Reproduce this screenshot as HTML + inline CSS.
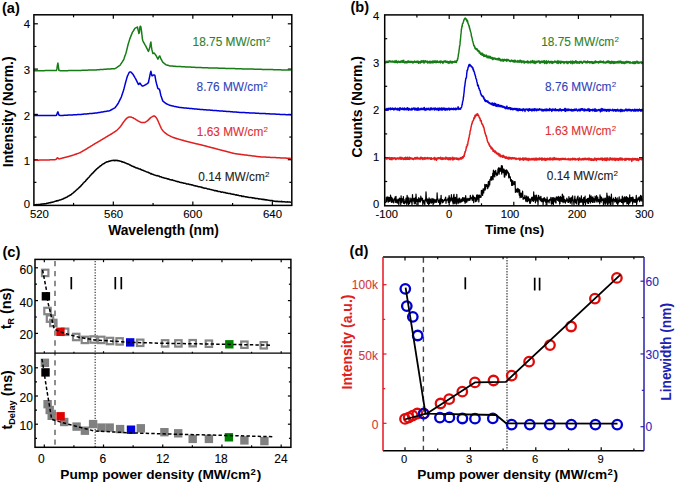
<!DOCTYPE html>
<html><head><meta charset="utf-8"><title>Figure</title>
<style>html,body{margin:0;padding:0;background:#fff;} svg{display:block;font-family:"Liberation Sans",sans-serif;}</style>
</head><body>
<svg width="675" height="483" viewBox="0 0 675 483" font-family="Liberation Sans, sans-serif"><line x1="73.56" y1="205.40" x2="73.56" y2="202.90" stroke="#000" stroke-width="1.2" />
<line x1="73.56" y1="14.80" x2="73.56" y2="17.30" stroke="#000" stroke-width="1.2" />
<line x1="113.32" y1="205.40" x2="113.32" y2="201.40" stroke="#000" stroke-width="1.2" />
<line x1="113.32" y1="14.80" x2="113.32" y2="18.80" stroke="#000" stroke-width="1.2" />
<line x1="153.08" y1="205.40" x2="153.08" y2="202.90" stroke="#000" stroke-width="1.2" />
<line x1="153.08" y1="14.80" x2="153.08" y2="17.30" stroke="#000" stroke-width="1.2" />
<line x1="192.84" y1="205.40" x2="192.84" y2="201.40" stroke="#000" stroke-width="1.2" />
<line x1="192.84" y1="14.80" x2="192.84" y2="18.80" stroke="#000" stroke-width="1.2" />
<line x1="232.60" y1="205.40" x2="232.60" y2="202.90" stroke="#000" stroke-width="1.2" />
<line x1="232.60" y1="14.80" x2="232.60" y2="17.30" stroke="#000" stroke-width="1.2" />
<line x1="272.36" y1="205.40" x2="272.36" y2="201.40" stroke="#000" stroke-width="1.2" />
<line x1="272.36" y1="14.80" x2="272.36" y2="18.80" stroke="#000" stroke-width="1.2" />
<line x1="33.90" y1="182.35" x2="36.40" y2="182.35" stroke="#000" stroke-width="1.2" />
<line x1="291.80" y1="182.35" x2="289.30" y2="182.35" stroke="#000" stroke-width="1.2" />
<line x1="33.90" y1="159.70" x2="37.90" y2="159.70" stroke="#000" stroke-width="1.2" />
<line x1="291.80" y1="159.70" x2="287.80" y2="159.70" stroke="#000" stroke-width="1.2" />
<line x1="33.90" y1="137.05" x2="36.40" y2="137.05" stroke="#000" stroke-width="1.2" />
<line x1="291.80" y1="137.05" x2="289.30" y2="137.05" stroke="#000" stroke-width="1.2" />
<line x1="33.90" y1="114.40" x2="37.90" y2="114.40" stroke="#000" stroke-width="1.2" />
<line x1="291.80" y1="114.40" x2="287.80" y2="114.40" stroke="#000" stroke-width="1.2" />
<line x1="33.90" y1="91.75" x2="36.40" y2="91.75" stroke="#000" stroke-width="1.2" />
<line x1="291.80" y1="91.75" x2="289.30" y2="91.75" stroke="#000" stroke-width="1.2" />
<line x1="33.90" y1="69.10" x2="37.90" y2="69.10" stroke="#000" stroke-width="1.2" />
<line x1="291.80" y1="69.10" x2="287.80" y2="69.10" stroke="#000" stroke-width="1.2" />
<line x1="33.90" y1="46.45" x2="36.40" y2="46.45" stroke="#000" stroke-width="1.2" />
<line x1="291.80" y1="46.45" x2="289.30" y2="46.45" stroke="#000" stroke-width="1.2" />
<line x1="33.90" y1="23.80" x2="37.90" y2="23.80" stroke="#000" stroke-width="1.2" />
<line x1="291.80" y1="23.80" x2="287.80" y2="23.80" stroke="#000" stroke-width="1.2" />
<text x="39.40" y="218.10" font-size="11.4" text-anchor="middle" fill="#000" font-weight="normal" stroke="#000" stroke-width="0.1" >520</text>
<text x="113.60" y="218.10" font-size="11.4" text-anchor="middle" fill="#000" font-weight="normal" stroke="#000" stroke-width="0.1" >560</text>
<text x="192.80" y="218.10" font-size="11.4" text-anchor="middle" fill="#000" font-weight="normal" stroke="#000" stroke-width="0.1" >600</text>
<text x="272.50" y="218.10" font-size="11.4" text-anchor="middle" fill="#000" font-weight="normal" stroke="#000" stroke-width="0.1" >640</text>
<text x="30.10" y="208.20" font-size="11.4" text-anchor="end" fill="#000" font-weight="normal" stroke="#000" stroke-width="0.1" >0</text>
<text x="30.10" y="164.60" font-size="11.4" text-anchor="end" fill="#000" font-weight="normal" stroke="#000" stroke-width="0.1" >1</text>
<text x="30.10" y="119.50" font-size="11.4" text-anchor="end" fill="#000" font-weight="normal" stroke="#000" stroke-width="0.1" >2</text>
<text x="30.10" y="73.85" font-size="11.4" text-anchor="end" fill="#000" font-weight="normal" stroke="#000" stroke-width="0.1" >3</text>
<text x="30.10" y="27.70" font-size="11.4" text-anchor="end" fill="#000" font-weight="normal" stroke="#000" stroke-width="0.1" >4</text>
<path d="M33.9 205.0L34.4 205.0L34.9 204.9L35.4 204.7L35.9 204.7L36.4 204.6L36.9 204.7L37.4 204.8L37.9 204.5L38.4 204.5L38.9 204.6L39.4 204.5L39.9 204.4L40.4 204.2L40.9 204.3L41.4 204.3L41.9 204.0L42.4 204.1L42.9 203.9L43.4 203.9L43.9 203.8L44.4 203.9L44.9 203.7L45.4 203.8L45.9 203.7L46.4 203.6L46.9 203.2L47.4 203.3L47.9 203.2L48.4 203.1L48.9 202.8L49.4 202.8L49.9 202.7L50.4 202.6L50.9 202.7L51.4 202.3L51.9 202.3L52.4 202.3L52.9 202.0L53.4 201.9L53.9 201.8L54.4 201.6L54.9 201.3L55.4 201.3L55.9 201.3L56.4 200.8L56.9 201.0L57.4 200.8L57.9 200.5L58.4 200.7L58.9 200.4L59.4 200.0L59.9 200.0L60.4 199.9L60.9 199.7L61.4 199.6L61.9 199.3L62.4 199.2L62.9 199.1L63.4 198.6L63.9 198.5L64.4 198.2L64.9 198.1L65.4 197.7L65.9 197.5L66.4 197.3L66.9 197.2L67.4 196.9L67.9 196.3L68.4 196.1L68.9 196.0L69.4 195.4L69.9 195.3L70.4 195.0L70.9 194.8L71.4 194.4L71.9 193.9L72.4 193.5L72.9 193.1L73.4 192.9L73.9 192.2L74.4 191.8L74.9 191.5L75.4 191.0L75.9 190.5L76.4 190.0L76.9 189.6L77.4 189.1L77.9 188.8L78.4 188.3L78.9 187.8L79.4 187.4L79.9 186.8L80.4 186.5L80.9 185.9L81.4 185.4L81.9 184.7L82.4 184.4L82.9 183.6L83.4 183.0L83.9 182.6L84.4 182.0L84.9 181.6L85.4 181.3L85.9 180.4L86.4 179.8L86.9 179.4L87.4 178.9L87.9 178.2L88.4 177.7L88.9 177.3L89.4 176.7L89.9 176.0L90.4 175.5L90.9 175.0L91.4 174.3L91.9 173.9L92.4 173.3L92.9 173.0L93.4 172.4L93.9 171.9L94.4 171.3L94.9 170.9L95.4 170.2L95.9 169.8L96.4 169.4L96.9 168.7L97.4 168.6L97.9 167.8L98.4 167.7L98.9 167.1L99.4 166.9L99.9 166.4L100.4 165.8L100.9 165.7L101.4 165.3L101.9 164.8L102.4 164.4L102.9 164.1L103.4 163.7L103.9 163.7L104.4 163.2L104.9 163.0L105.4 162.6L105.9 162.3L106.4 162.0L106.9 162.0L107.4 161.7L107.9 161.7L108.4 161.5L108.9 161.2L109.4 161.2L109.9 161.0L110.4 161.0L110.9 160.8L111.4 160.7L111.9 160.4L112.4 160.4L112.9 160.6L113.4 160.3L113.9 160.3L114.4 160.5L114.9 160.7L115.4 160.3L115.9 160.5L116.4 160.5L116.9 160.3L117.4 160.7L117.9 160.6L118.4 160.7L118.9 160.8L119.4 161.0L119.9 161.1L120.4 161.3L120.9 161.3L121.4 161.4L121.9 161.9L122.4 161.8L122.9 162.0L123.4 162.2L123.9 162.3L124.4 162.5L124.9 162.8L125.4 162.9L125.9 163.1L126.4 163.4L126.9 163.7L127.4 163.8L127.9 164.0L128.4 164.1L128.9 164.3L129.4 164.8L129.9 165.0L130.4 165.1L130.9 165.5L131.4 165.7L131.9 166.0L132.4 166.2L132.9 166.3L133.4 166.8L133.9 166.6L134.4 167.1L134.9 167.3L135.4 167.5L135.9 167.8L136.4 168.0L136.9 167.9L137.4 168.0L137.9 168.5L138.4 168.5L138.9 168.8L139.4 169.1L139.9 169.0L140.4 169.1L140.9 169.6L141.4 169.8L141.9 170.0L142.4 170.2L142.9 170.3L143.4 170.4L143.9 170.8L144.4 170.9L144.9 171.0L145.4 171.4L145.9 171.6L146.4 171.8L146.9 171.9L147.4 172.1L147.9 172.3L148.4 172.5L148.9 172.8L149.4 172.9L149.9 173.2L150.4 173.4L150.9 173.9L151.4 173.6L151.9 174.1L152.4 174.2L152.9 174.4L153.4 174.4L153.9 174.8L154.4 175.1L154.9 175.1L155.4 175.3L155.9 175.4L156.4 175.7L156.9 175.7L157.4 175.6L157.9 175.9L158.4 175.9L158.9 175.9L159.4 176.4L159.9 176.8L160.4 176.8L160.9 176.8L161.4 177.0L161.9 177.4L162.4 177.4L162.9 177.5L163.4 177.7L163.9 177.8L164.4 178.1L164.9 178.2L165.4 178.3L165.9 178.3L166.4 178.6L166.9 178.6L167.4 178.9L167.9 178.8L168.4 179.0L168.9 179.2L169.4 179.2L169.9 179.7L170.4 179.8L170.9 179.7L171.4 180.0L171.9 180.1L172.4 179.8L172.9 180.3L173.4 180.4L173.9 180.6L174.4 180.6L174.9 180.8L175.4 180.9L175.9 181.2L176.4 181.3L176.9 181.4L177.4 181.7L177.9 181.6L178.4 181.7L178.9 181.7L179.4 182.2L179.9 182.3L180.4 182.4L180.9 182.5L181.4 182.5L181.9 182.7L182.4 182.7L182.9 182.9L183.4 183.0L183.9 183.3L184.4 183.3L184.9 183.3L185.4 183.4L185.9 183.5L186.4 183.9L186.9 183.9L187.4 183.9L187.9 184.0L188.4 184.0L188.9 184.3L189.4 184.5L189.9 184.5L190.4 184.6L190.9 184.7L191.4 184.9L191.9 184.8L192.4 185.1L192.9 185.1L193.4 185.5L193.9 185.4L194.4 185.7L194.9 185.9L195.4 185.8L195.9 185.9L196.4 186.1L196.9 186.2L197.4 186.2L197.9 186.5L198.4 186.8L198.9 186.7L199.4 186.8L199.9 186.8L200.4 187.1L200.9 187.0L201.4 187.2L201.9 187.6L202.4 187.4L202.9 187.8L203.4 188.0L203.9 187.9L204.4 188.1L204.9 188.4L205.4 188.2L205.9 188.3L206.4 188.3L206.9 188.6L207.4 188.9L207.9 189.0L208.4 188.9L208.9 189.0L209.4 189.2L209.9 189.4L210.4 189.4L210.9 189.6L211.4 189.7L211.9 189.8L212.4 189.9L212.9 190.1L213.4 190.2L213.9 190.4L214.4 190.7L214.9 190.6L215.4 190.7L215.9 190.6L216.4 191.0L216.9 190.8L217.4 191.0L217.9 191.4L218.4 191.5L218.9 191.5L219.4 191.4L219.9 191.6L220.4 191.7L220.9 192.0L221.4 192.3L221.9 192.1L222.4 192.1L222.9 192.1L223.4 192.4L223.9 192.5L224.4 192.4L224.9 192.7L225.4 192.6L225.9 193.0L226.4 193.1L226.9 193.2L227.4 193.1L227.9 193.3L228.4 193.4L228.9 193.4L229.4 193.5L229.9 193.5L230.4 193.6L230.9 194.0L231.4 194.0L231.9 194.1L232.4 194.3L232.9 194.1L233.4 194.3L233.9 194.5L234.4 194.6L234.9 194.6L235.4 194.9L235.9 194.9L236.4 194.8L236.9 195.0L237.4 195.3L237.9 195.3L238.4 195.2L238.9 195.6L239.4 195.7L239.9 195.8L240.4 195.7L240.9 195.8L241.4 195.8L241.9 196.4L242.4 196.2L242.9 196.5L243.4 196.3L243.9 196.5L244.4 196.4L244.9 196.6L245.4 196.9L245.9 196.7L246.4 197.1L246.9 197.1L247.4 197.0L247.9 197.2L248.4 197.3L248.9 197.4L249.4 197.4L249.9 197.4L250.4 197.6L250.9 197.6L251.4 197.6L251.9 197.8L252.4 198.0L252.9 197.8L253.4 198.0L253.9 198.0L254.4 198.1L254.9 198.4L255.4 198.3L255.9 198.6L256.4 198.4L256.9 198.6L257.4 198.6L257.9 198.6L258.4 198.9L258.9 198.8L259.4 199.0L259.9 199.0L260.4 199.0L260.9 199.1L261.4 199.2L261.9 199.4L262.4 199.3L262.9 199.5L263.4 199.3L263.9 199.7L264.4 199.6L264.9 199.5L265.4 199.8L265.9 200.0L266.4 199.8L266.9 199.9L267.4 200.0L267.9 200.1L268.4 200.3L268.9 200.3L269.4 200.3L269.9 200.6L270.4 200.5L270.9 200.7L271.4 200.6L271.9 200.6L272.4 200.6L272.9 201.2L273.4 201.0L273.9 201.1L274.4 201.2L274.9 201.3L275.4 201.3L275.9 201.6L276.4 201.3L276.9 201.3L277.4 201.4L277.9 201.3L278.4 201.6L278.9 201.7L279.4 201.5L279.9 201.4L280.4 201.6L280.9 201.8L281.4 201.3L281.9 201.8L282.4 201.6L282.9 201.9L283.4 201.7L283.9 201.8L284.4 201.7L284.9 201.8L285.4 202.1L285.9 202.0L286.4 201.9L286.9 201.9L287.4 201.8L287.9 202.0L288.4 202.1L288.9 202.1L289.4 202.1L289.9 202.0L290.4 202.2L290.9 202.2" fill="none" stroke="#000" stroke-width="1.5" stroke-linejoin="round"/>
<path d="M33.9 160.3L34.4 160.3L34.9 160.3L35.4 160.3L35.9 160.2L36.4 160.2L36.9 160.2L37.4 160.2L37.9 160.2L38.4 160.2L38.9 160.2L39.4 160.1L39.9 160.1L40.4 160.1L40.9 160.1L41.4 160.1L41.9 160.1L42.4 160.1L42.9 160.0L43.4 160.0L43.9 160.0L44.4 160.0L44.9 160.0L45.4 160.0L45.9 160.0L46.4 159.9L46.9 159.9L47.4 159.9L47.9 159.9L48.4 159.9L48.9 159.9L49.4 159.9L49.9 159.8L50.4 159.8L50.9 159.8L51.4 159.8L51.9 159.8L52.4 159.8L52.9 159.8L53.4 159.7L53.9 159.7L54.4 159.7L54.9 159.7L55.4 159.6L55.9 159.5L56.4 159.1L56.9 158.3L57.4 157.8L57.9 157.9L58.4 158.6L58.9 158.9L59.4 158.9L59.9 158.7L60.4 158.6L60.9 158.5L61.4 158.4L61.9 158.2L62.4 158.1L62.9 158.0L63.4 157.8L63.9 157.7L64.4 157.6L64.9 157.5L65.4 157.3L65.9 157.2L66.4 157.1L66.9 156.9L67.4 156.8L67.9 156.7L68.4 156.5L68.9 156.4L69.4 156.2L69.9 156.1L70.4 155.9L70.9 155.8L71.4 155.7L71.9 155.5L72.4 155.4L72.9 155.2L73.4 155.1L73.9 154.9L74.4 154.7L74.9 154.5L75.4 154.3L75.9 154.2L76.4 154.0L76.9 153.8L77.4 153.6L77.9 153.4L78.4 153.3L78.9 153.1L79.4 152.9L79.9 152.7L80.4 152.5L80.9 152.2L81.4 151.9L81.9 151.6L82.4 151.3L82.9 151.0L83.4 150.7L83.9 150.4L84.4 150.1L84.9 149.8L85.4 149.5L85.9 149.3L86.4 149.0L86.9 148.7L87.4 148.3L87.9 148.0L88.4 147.7L88.9 147.4L89.4 147.1L89.9 146.8L90.4 146.5L90.9 146.2L91.4 145.9L91.9 145.6L92.4 145.3L92.9 144.9L93.4 144.6L93.9 144.3L94.4 144.0L94.9 143.7L95.4 143.4L95.9 143.1L96.4 142.8L96.9 142.6L97.4 142.3L97.9 142.0L98.4 141.7L98.9 141.4L99.4 141.1L99.9 140.8L100.4 140.5L100.9 140.2L101.4 139.9L101.9 139.6L102.4 139.3L102.9 139.0L103.4 138.7L103.9 138.4L104.4 138.1L104.9 137.8L105.4 137.5L105.9 137.2L106.4 136.9L106.9 136.6L107.4 136.3L107.9 136.0L108.4 135.7L108.9 135.4L109.4 135.1L109.9 134.8L110.4 134.5L110.9 134.2L111.4 134.0L111.9 133.6L112.4 133.3L112.9 133.0L113.4 132.6L113.9 132.3L114.4 132.0L114.9 131.6L115.4 131.3L115.9 131.0L116.4 130.6L116.9 130.3L117.4 129.8L117.9 129.3L118.4 128.8L118.9 128.2L119.4 127.7L119.9 127.2L120.4 126.6L120.9 125.9L121.4 125.2L121.9 124.5L122.4 123.7L122.9 123.0L123.4 122.3L123.9 121.6L124.4 121.0L124.9 120.3L125.4 119.7L125.9 119.1L126.4 118.6L126.9 118.1L127.4 117.8L127.9 117.5L128.4 117.2L128.9 117.1L129.4 117.0L129.9 116.9L130.4 116.9L130.9 117.0L131.4 117.2L131.9 117.4L132.4 117.6L132.9 117.8L133.4 118.0L133.9 118.3L134.4 118.6L134.9 118.9L135.4 119.2L135.9 119.6L136.4 119.9L136.9 120.2L137.4 120.5L137.9 120.8L138.4 121.1L138.9 121.3L139.4 121.6L139.9 121.8L140.4 122.1L140.9 122.3L141.4 122.4L141.9 122.4L142.4 122.5L142.9 122.5L143.4 122.5L143.9 122.6L144.4 122.5L144.9 122.4L145.4 122.1L145.9 121.8L146.4 121.4L146.9 121.1L147.4 120.8L147.9 120.4L148.4 119.9L148.9 119.4L149.4 118.9L149.9 118.4L150.4 117.9L150.9 117.5L151.4 117.1L151.9 116.9L152.4 116.6L152.9 116.3L153.4 116.0L153.9 115.9L154.4 115.9L154.9 116.3L155.4 116.7L155.9 117.3L156.4 117.9L156.9 118.7L157.4 119.6L157.9 120.7L158.4 121.8L158.9 123.0L159.4 124.1L159.9 125.3L160.4 126.4L160.9 127.5L161.4 128.6L161.9 129.4L162.4 130.1L162.9 130.7L163.4 131.2L163.9 131.8L164.4 132.3L164.9 132.7L165.4 133.1L165.9 133.5L166.4 133.8L166.9 134.2L167.4 134.6L167.9 134.9L168.4 135.2L168.9 135.4L169.4 135.7L169.9 135.9L170.4 136.2L170.9 136.4L171.4 136.7L171.9 136.9L172.4 137.1L172.9 137.3L173.4 137.5L173.9 137.7L174.4 137.8L174.9 138.0L175.4 138.2L175.9 138.3L176.4 138.5L176.9 138.7L177.4 138.8L177.9 138.9L178.4 139.1L178.9 139.2L179.4 139.4L179.9 139.5L180.4 139.6L180.9 139.8L181.4 139.9L181.9 140.1L182.4 140.2L182.9 140.3L183.4 140.5L183.9 140.6L184.4 140.8L184.9 140.9L185.4 141.0L185.9 141.2L186.4 141.3L186.9 141.4L187.4 141.6L187.9 141.7L188.4 141.8L188.9 141.9L189.4 142.1L189.9 142.2L190.4 142.3L190.9 142.4L191.4 142.6L191.9 142.7L192.4 142.8L192.9 142.9L193.4 143.1L193.9 143.2L194.4 143.3L194.9 143.4L195.4 143.5L195.9 143.7L196.4 143.8L196.9 143.9L197.4 144.0L197.9 144.1L198.4 144.2L198.9 144.4L199.4 144.5L199.9 144.6L200.4 144.7L200.9 144.8L201.4 145.0L201.9 145.1L202.4 145.2L202.9 145.3L203.4 145.4L203.9 145.6L204.4 145.7L204.9 145.8L205.4 146.0L205.9 146.1L206.4 146.2L206.9 146.4L207.4 146.5L207.9 146.6L208.4 146.8L208.9 146.9L209.4 147.0L209.9 147.2L210.4 147.3L210.9 147.4L211.4 147.6L211.9 147.7L212.4 147.8L212.9 148.0L213.4 148.1L213.9 148.2L214.4 148.3L214.9 148.5L215.4 148.6L215.9 148.7L216.4 148.9L216.9 149.0L217.4 149.1L217.9 149.3L218.4 149.4L218.9 149.5L219.4 149.6L219.9 149.8L220.4 149.9L220.9 150.0L221.4 150.2L221.9 150.3L222.4 150.4L222.9 150.6L223.4 150.7L223.9 150.8L224.4 150.9L224.9 151.1L225.4 151.2L225.9 151.3L226.4 151.5L226.9 151.6L227.4 151.7L227.9 151.9L228.4 152.0L228.9 152.1L229.4 152.2L229.9 152.4L230.4 152.5L230.9 152.6L231.4 152.8L231.9 152.9L232.4 153.0L232.9 153.2L233.4 153.3L233.9 153.4L234.4 153.5L234.9 153.6L235.4 153.7L235.9 153.8L236.4 153.8L236.9 153.9L237.4 154.0L237.9 154.0L238.4 154.1L238.9 154.2L239.4 154.2L239.9 154.3L240.4 154.3L240.9 154.4L241.4 154.5L241.9 154.5L242.4 154.6L242.9 154.7L243.4 154.7L243.9 154.8L244.4 154.9L244.9 154.9L245.4 155.0L245.9 155.1L246.4 155.1L246.9 155.2L247.4 155.2L247.9 155.3L248.4 155.4L248.9 155.4L249.4 155.5L249.9 155.6L250.4 155.6L250.9 155.7L251.4 155.8L251.9 155.8L252.4 155.9L252.9 156.0L253.4 156.0L253.9 156.1L254.4 156.1L254.9 156.2L255.4 156.3L255.9 156.3L256.4 156.4L256.9 156.5L257.4 156.5L257.9 156.6L258.4 156.7L258.9 156.7L259.4 156.8L259.9 156.8L260.4 156.8L260.9 156.9L261.4 156.9L261.9 156.9L262.4 156.9L262.9 157.0L263.4 157.0L263.9 157.0L264.4 157.0L264.9 157.1L265.4 157.1L265.9 157.1L266.4 157.2L266.9 157.2L267.4 157.2L267.9 157.2L268.4 157.3L268.9 157.3L269.4 157.3L269.9 157.3L270.4 157.4L270.9 157.4L271.4 157.4L271.9 157.4L272.4 157.5L272.9 157.5L273.4 157.5L273.9 157.5L274.4 157.6L274.9 157.6L275.4 157.6L275.9 157.6L276.4 157.7L276.9 157.7L277.4 157.7L277.9 157.7L278.4 157.8L278.9 157.8L279.4 157.8L279.9 157.8L280.4 157.9L280.9 157.9L281.4 157.9L281.9 157.9L282.4 158.0L282.9 158.0L283.4 158.0L283.9 158.0L284.4 158.1L284.9 158.1L285.4 158.1L285.9 158.1L286.4 158.2L286.9 158.2L287.4 158.2L287.9 158.2L288.4 158.3L288.9 158.3L289.4 158.3L289.9 158.3L290.4 158.4L290.9 158.4" fill="none" stroke="#e01e1e" stroke-width="1.5" stroke-linejoin="round"/>
<path d="M33.9 115.6L34.4 115.6L34.9 115.6L35.4 115.6L35.9 115.6L36.4 115.6L36.9 115.6L37.4 115.6L37.9 115.6L38.4 115.6L38.9 115.6L39.4 115.6L39.9 115.6L40.4 115.6L40.9 115.6L41.4 115.6L41.9 115.6L42.4 115.6L42.9 115.6L43.4 115.6L43.9 115.6L44.4 115.6L44.9 115.6L45.4 115.6L45.9 115.6L46.4 115.6L46.9 115.6L47.4 115.6L47.9 115.6L48.4 115.6L48.9 115.6L49.4 115.6L49.9 115.6L50.4 115.6L50.9 115.6L51.4 115.6L51.9 115.6L52.4 115.6L52.9 115.6L53.4 115.6L53.9 115.6L54.4 115.6L54.9 115.6L55.4 115.5L55.9 115.4L56.4 115.3L56.9 114.4L57.4 112.8L57.9 111.8L58.4 113.4L58.9 115.0L59.4 115.3L59.9 115.4L60.4 115.4L60.9 115.5L61.4 115.5L61.9 115.5L62.4 115.4L62.9 115.4L63.4 115.4L63.9 115.3L64.4 115.3L64.9 115.3L65.4 115.3L65.9 115.2L66.4 115.2L66.9 115.2L67.4 115.2L67.9 115.1L68.4 115.1L68.9 115.1L69.4 115.1L69.9 115.0L70.4 115.0L70.9 115.0L71.4 115.0L71.9 114.9L72.4 114.9L72.9 114.9L73.4 114.8L73.9 114.8L74.4 114.8L74.9 114.8L75.4 114.7L75.9 114.7L76.4 114.7L76.9 114.7L77.4 114.6L77.9 114.6L78.4 114.6L78.9 114.6L79.4 114.5L79.9 114.5L80.4 114.5L80.9 114.4L81.4 114.4L81.9 114.3L82.4 114.3L82.9 114.2L83.4 114.2L83.9 114.1L84.4 114.1L84.9 114.0L85.4 114.0L85.9 114.0L86.4 113.9L86.9 113.9L87.4 113.8L87.9 113.8L88.4 113.7L88.9 113.7L89.4 113.6L89.9 113.6L90.4 113.5L90.9 113.5L91.4 113.4L91.9 113.4L92.4 113.4L92.9 113.3L93.4 113.3L93.9 113.2L94.4 113.2L94.9 113.1L95.4 113.1L95.9 113.0L96.4 113.0L96.9 112.9L97.4 112.8L97.9 112.7L98.4 112.6L98.9 112.6L99.4 112.5L99.9 112.4L100.4 112.3L100.9 112.2L101.4 112.1L101.9 112.1L102.4 112.0L102.9 111.9L103.4 111.8L103.9 111.7L104.4 111.6L104.9 111.6L105.4 111.5L105.9 111.4L106.4 111.3L106.9 111.2L107.4 111.1L107.9 111.1L108.4 111.0L108.9 110.9L109.4 110.8L109.9 110.6L110.4 110.3L110.9 110.0L111.4 109.8L111.9 109.5L112.4 109.2L112.9 108.9L113.4 108.7L113.9 108.4L114.4 108.1L114.9 107.9L115.4 107.2L115.9 106.6L116.4 105.9L116.9 105.2L117.4 104.5L117.9 103.8L118.4 102.9L118.9 101.9L119.4 100.9L119.9 99.9L120.4 98.9L120.9 97.9L121.4 96.7L121.9 95.2L122.4 93.7L122.9 92.2L123.4 90.7L123.9 89.0L124.4 87.1L124.9 85.1L125.4 83.2L125.9 81.3L126.4 79.6L126.9 77.8L127.4 76.1L127.9 75.1L128.4 74.0L128.9 73.0L129.4 72.2L129.9 72.1L130.4 72.1L130.9 72.0L131.4 72.5L131.9 73.1L132.4 73.6L132.9 74.2L133.4 75.0L133.9 75.8L134.4 76.7L134.9 77.6L135.4 78.4L135.9 79.4L136.4 80.4L136.9 81.4L137.4 82.4L137.9 83.4L138.4 84.4L138.9 84.3L139.4 83.6L139.9 83.1L140.4 83.8L140.9 84.5L141.4 85.1L141.9 85.6L142.4 86.1L142.9 86.1L143.4 85.9L143.9 85.6L144.4 85.3L144.9 85.1L145.4 84.8L145.9 84.5L146.4 84.2L146.9 83.9L147.4 83.6L147.9 83.2L148.4 82.5L148.9 80.2L149.4 77.9L149.9 75.4L150.4 72.9L150.9 71.3L151.4 73.5L151.9 75.7L152.4 75.8L152.9 75.4L153.4 75.0L153.9 74.9L154.4 74.9L154.9 75.5L155.4 78.3L155.9 81.1L156.4 83.2L156.9 85.0L157.4 86.8L157.9 88.6L158.4 88.8L158.9 89.0L159.4 89.2L159.9 91.0L160.4 93.3L160.9 95.5L161.4 97.1L161.9 98.5L162.4 99.9L162.9 101.1L163.4 101.5L163.9 101.9L164.4 102.3L164.9 102.7L165.4 103.1L165.9 103.5L166.4 103.7L166.9 104.0L167.4 104.2L167.9 104.4L168.4 104.7L168.9 104.9L169.4 105.2L169.9 105.3L170.4 105.5L170.9 105.6L171.4 105.7L171.9 105.8L172.4 105.9L172.9 106.0L173.4 106.1L173.9 106.3L174.4 106.4L174.9 106.5L175.4 106.6L175.9 106.7L176.4 106.8L176.9 106.9L177.4 107.0L177.9 107.1L178.4 107.2L178.9 107.3L179.4 107.4L179.9 107.5L180.4 107.5L180.9 107.6L181.4 107.6L181.9 107.7L182.4 107.7L182.9 107.8L183.4 107.8L183.9 107.9L184.4 107.9L184.9 108.0L185.4 108.0L185.9 108.1L186.4 108.1L186.9 108.2L187.4 108.2L187.9 108.3L188.4 108.3L188.9 108.3L189.4 108.4L189.9 108.4L190.4 108.5L190.9 108.5L191.4 108.6L191.9 108.6L192.4 108.7L192.9 108.7L193.4 108.8L193.9 108.8L194.4 108.9L194.9 108.9L195.4 109.0L195.9 109.0L196.4 109.1L196.9 109.1L197.4 109.2L197.9 109.2L198.4 109.2L198.9 109.3L199.4 109.3L199.9 109.4L200.4 109.4L200.9 109.5L201.4 109.5L201.9 109.5L202.4 109.6L202.9 109.6L203.4 109.7L203.9 109.7L204.4 109.7L204.9 109.8L205.4 109.8L205.9 109.8L206.4 109.9L206.9 109.9L207.4 110.0L207.9 110.0L208.4 110.0L208.9 110.1L209.4 110.1L209.9 110.1L210.4 110.2L210.9 110.2L211.4 110.3L211.9 110.3L212.4 110.3L212.9 110.4L213.4 110.4L213.9 110.4L214.4 110.5L214.9 110.5L215.4 110.6L215.9 110.6L216.4 110.6L216.9 110.7L217.4 110.7L217.9 110.7L218.4 110.8L218.9 110.8L219.4 110.9L219.9 110.9L220.4 110.9L220.9 111.0L221.4 111.0L221.9 111.0L222.4 111.1L222.9 111.1L223.4 111.2L223.9 111.2L224.4 111.2L224.9 111.3L225.4 111.3L225.9 111.3L226.4 111.4L226.9 111.4L227.4 111.5L227.9 111.5L228.4 111.5L228.9 111.6L229.4 111.6L229.9 111.6L230.4 111.7L230.9 111.7L231.4 111.8L231.9 111.8L232.4 111.8L232.9 111.9L233.4 111.9L233.9 111.9L234.4 112.0L234.9 112.0L235.4 112.1L235.9 112.1L236.4 112.1L236.9 112.2L237.4 112.2L237.9 112.2L238.4 112.3L238.9 112.3L239.4 112.4L239.9 112.4L240.4 112.4L240.9 112.4L241.4 112.5L241.9 112.5L242.4 112.5L242.9 112.5L243.4 112.6L243.9 112.6L244.4 112.6L244.9 112.6L245.4 112.7L245.9 112.7L246.4 112.7L246.9 112.7L247.4 112.8L247.9 112.8L248.4 112.8L248.9 112.8L249.4 112.9L249.9 112.9L250.4 112.9L250.9 112.9L251.4 113.0L251.9 113.0L252.4 113.0L252.9 113.0L253.4 113.1L253.9 113.1L254.4 113.1L254.9 113.1L255.4 113.2L255.9 113.2L256.4 113.2L256.9 113.2L257.4 113.3L257.9 113.3L258.4 113.3L258.9 113.3L259.4 113.4L259.9 113.4L260.4 113.4L260.9 113.4L261.4 113.4L261.9 113.5L262.4 113.5L262.9 113.5L263.4 113.5L263.9 113.6L264.4 113.6L264.9 113.6L265.4 113.6L265.9 113.7L266.4 113.7L266.9 113.7L267.4 113.7L267.9 113.8L268.4 113.8L268.9 113.8L269.4 113.8L269.9 113.9L270.4 113.9L270.9 113.9L271.4 113.9L271.9 114.0L272.4 114.0L272.9 114.0L273.4 114.0L273.9 114.1L274.4 114.1L274.9 114.1L275.4 114.1L275.9 114.2L276.4 114.2L276.9 114.2L277.4 114.2L277.9 114.3L278.4 114.3L278.9 114.3L279.4 114.3L279.9 114.4L280.4 114.4L280.9 114.4L281.4 114.4L281.9 114.5L282.4 114.5L282.9 114.5L283.4 114.5L283.9 114.6L284.4 114.6L284.9 114.6L285.4 114.6L285.9 114.7L286.4 114.7L286.9 114.7L287.4 114.7L287.9 114.7L288.4 114.8L288.9 114.8L289.4 114.8L289.9 114.8L290.4 114.9L290.9 114.9" fill="none" stroke="#0000d8" stroke-width="1.5" stroke-linejoin="round"/>
<path d="M33.9 70.7L34.4 70.7L34.9 70.7L35.4 70.7L35.9 70.7L36.4 70.7L36.9 70.7L37.4 70.7L37.9 70.7L38.4 70.7L38.9 70.7L39.4 70.7L39.9 70.7L40.4 70.7L40.9 70.7L41.4 70.7L41.9 70.7L42.4 70.7L42.9 70.7L43.4 70.7L43.9 70.7L44.4 70.7L44.9 70.6L45.4 70.6L45.9 70.6L46.4 70.6L46.9 70.6L47.4 70.6L47.9 70.6L48.4 70.6L48.9 70.6L49.4 70.6L49.9 70.6L50.4 70.6L50.9 70.6L51.4 70.6L51.9 70.6L52.4 70.6L52.9 70.6L53.4 70.6L53.9 70.6L54.4 70.6L54.9 70.6L55.4 70.5L55.9 70.4L56.4 70.4L56.9 68.9L57.4 65.3L57.9 63.1L58.4 66.7L58.9 70.3L59.4 70.4L59.9 70.5L60.4 70.7L60.9 70.8L61.4 70.8L61.9 70.8L62.4 70.8L62.9 70.8L63.4 70.7L63.9 70.7L64.4 70.7L64.9 70.7L65.4 70.7L65.9 70.7L66.4 70.7L66.9 70.7L67.4 70.7L67.9 70.7L68.4 70.6L68.9 70.6L69.4 70.6L69.9 70.6L70.4 70.6L70.9 70.6L71.4 70.6L71.9 70.6L72.4 70.6L72.9 70.5L73.4 70.5L73.9 70.5L74.4 70.5L74.9 70.5L75.4 70.5L75.9 70.5L76.4 70.5L76.9 70.5L77.4 70.5L77.9 70.4L78.4 70.4L78.9 70.4L79.4 70.4L79.9 70.4L80.4 70.4L80.9 70.4L81.4 70.4L81.9 70.3L82.4 70.3L82.9 70.3L83.4 70.3L83.9 70.3L84.4 70.3L84.9 70.2L85.4 70.2L85.9 70.2L86.4 70.2L86.9 70.2L87.4 70.2L87.9 70.2L88.4 70.1L88.9 70.1L89.4 70.1L89.9 70.1L90.4 70.1L90.9 70.1L91.4 70.0L91.9 70.0L92.4 70.0L92.9 70.0L93.4 70.0L93.9 70.0L94.4 70.0L94.9 69.9L95.4 69.9L95.9 69.9L96.4 69.9L96.9 69.8L97.4 69.8L97.9 69.8L98.4 69.7L98.9 69.7L99.4 69.7L99.9 69.6L100.4 69.6L100.9 69.6L101.4 69.5L101.9 69.5L102.4 69.5L102.9 69.4L103.4 69.4L103.9 69.3L104.4 69.3L104.9 69.3L105.4 69.2L105.9 69.2L106.4 69.2L106.9 69.1L107.4 69.1L107.9 69.1L108.4 69.0L108.9 69.0L109.4 68.9L109.9 68.9L110.4 68.9L110.9 68.9L111.4 68.8L111.9 68.8L112.4 68.8L112.9 68.8L113.4 68.8L113.9 68.7L114.4 68.7L114.9 68.7L115.4 68.4L115.9 68.1L116.4 67.7L116.9 67.4L117.4 67.1L117.9 66.7L118.4 66.4L118.9 66.0L119.4 65.7L119.9 65.4L120.4 64.7L120.9 63.9L121.4 63.2L121.9 62.4L122.4 61.7L122.9 60.9L123.4 60.2L123.9 59.1L124.4 57.6L124.9 56.1L125.4 54.7L125.9 53.2L126.4 51.5L126.9 49.4L127.4 47.3L127.9 45.2L128.4 43.5L128.9 41.9L129.4 40.2L129.9 38.6L130.4 37.4L130.9 36.1L131.4 34.9L131.9 33.6L132.4 32.4L132.9 31.6L133.4 30.8L133.9 30.0L134.4 29.2L134.9 28.4L135.4 28.1L135.9 27.8L136.4 27.6L136.9 27.3L137.4 27.0L137.9 29.1L138.4 31.1L138.9 33.5L139.4 32.4L139.9 27.2L140.4 26.2L140.9 27.0L141.4 30.4L141.9 34.5L142.4 38.8L142.9 41.0L143.4 41.9L143.9 42.8L144.4 43.7L144.9 44.6L145.4 45.4L145.9 46.3L146.4 47.3L146.9 48.3L147.4 49.4L147.9 50.4L148.4 51.4L148.9 50.3L149.4 48.6L149.9 46.7L150.4 43.6L150.9 42.0L151.4 46.7L151.9 49.7L152.4 51.6L152.9 53.5L153.4 53.2L153.9 53.0L154.4 53.3L154.9 54.0L155.4 54.6L155.9 55.3L156.4 56.2L156.9 57.2L157.4 58.1L157.9 59.1L158.4 58.1L158.9 57.0L159.4 56.0L159.9 56.0L160.4 57.6L160.9 58.9L161.4 59.7L161.9 60.6L162.4 61.5L162.9 62.3L163.4 62.7L163.9 63.1L164.4 63.5L164.9 63.9L165.4 64.3L165.9 64.7L166.4 64.9L166.9 65.0L167.4 65.2L167.9 65.3L168.4 65.5L168.9 65.6L169.4 65.8L169.9 65.9L170.4 66.0L170.9 66.0L171.4 66.0L171.9 66.1L172.4 66.1L172.9 66.1L173.4 66.2L173.9 66.2L174.4 66.3L174.9 66.3L175.4 66.3L175.9 66.4L176.4 66.4L176.9 66.4L177.4 66.4L177.9 66.5L178.4 66.5L178.9 66.5L179.4 66.6L179.9 66.6L180.4 66.6L180.9 66.6L181.4 66.7L181.9 66.7L182.4 66.7L182.9 66.7L183.4 66.8L183.9 66.8L184.4 66.8L184.9 66.8L185.4 66.9L185.9 66.9L186.4 66.9L186.9 66.9L187.4 67.0L187.9 67.0L188.4 67.0L188.9 67.0L189.4 67.1L189.9 67.1L190.4 67.1L190.9 67.1L191.4 67.2L191.9 67.2L192.4 67.2L192.9 67.2L193.4 67.3L193.9 67.3L194.4 67.3L194.9 67.3L195.4 67.4L195.9 67.4L196.4 67.4L196.9 67.4L197.4 67.5L197.9 67.5L198.4 67.5L198.9 67.5L199.4 67.6L199.9 67.6L200.4 67.6L200.9 67.6L201.4 67.6L201.9 67.7L202.4 67.7L202.9 67.7L203.4 67.7L203.9 67.7L204.4 67.7L204.9 67.7L205.4 67.8L205.9 67.8L206.4 67.8L206.9 67.8L207.4 67.8L207.9 67.8L208.4 67.9L208.9 67.9L209.4 67.9L209.9 67.9L210.4 67.9L210.9 67.9L211.4 67.9L211.9 68.0L212.4 68.0L212.9 68.0L213.4 68.0L213.9 68.0L214.4 68.0L214.9 68.0L215.4 68.1L215.9 68.1L216.4 68.1L216.9 68.1L217.4 68.1L217.9 68.1L218.4 68.2L218.9 68.2L219.4 68.2L219.9 68.2L220.4 68.2L220.9 68.2L221.4 68.2L221.9 68.3L222.4 68.3L222.9 68.3L223.4 68.3L223.9 68.3L224.4 68.3L224.9 68.3L225.4 68.4L225.9 68.4L226.4 68.4L226.9 68.4L227.4 68.4L227.9 68.4L228.4 68.5L228.9 68.5L229.4 68.5L229.9 68.5L230.4 68.5L230.9 68.5L231.4 68.5L231.9 68.6L232.4 68.6L232.9 68.6L233.4 68.6L233.9 68.6L234.4 68.6L234.9 68.6L235.4 68.7L235.9 68.7L236.4 68.7L236.9 68.7L237.4 68.7L237.9 68.7L238.4 68.8L238.9 68.8L239.4 68.8L239.9 68.8L240.4 68.8L240.9 68.8L241.4 68.8L241.9 68.8L242.4 68.9L242.9 68.9L243.4 68.9L243.9 68.9L244.4 68.9L244.9 68.9L245.4 68.9L245.9 69.0L246.4 69.0L246.9 69.0L247.4 69.0L247.9 69.0L248.4 69.0L248.9 69.0L249.4 69.0L249.9 69.1L250.4 69.1L250.9 69.1L251.4 69.1L251.9 69.1L252.4 69.1L252.9 69.1L253.4 69.1L253.9 69.2L254.4 69.2L254.9 69.2L255.4 69.2L255.9 69.2L256.4 69.2L256.9 69.2L257.4 69.2L257.9 69.3L258.4 69.3L258.9 69.3L259.4 69.3L259.9 69.3L260.4 69.3L260.9 69.3L261.4 69.3L261.9 69.4L262.4 69.4L262.9 69.4L263.4 69.4L263.9 69.4L264.4 69.4L264.9 69.4L265.4 69.4L265.9 69.5L266.4 69.5L266.9 69.5L267.4 69.5L267.9 69.5L268.4 69.5L268.9 69.5L269.4 69.5L269.9 69.6L270.4 69.6L270.9 69.6L271.4 69.6L271.9 69.6L272.4 69.6L272.9 69.6L273.4 69.7L273.9 69.7L274.4 69.7L274.9 69.7L275.4 69.7L275.9 69.7L276.4 69.7L276.9 69.7L277.4 69.8L277.9 69.8L278.4 69.8L278.9 69.8L279.4 69.8L279.9 69.8L280.4 69.8L280.9 69.8L281.4 69.9L281.9 69.9L282.4 69.9L282.9 69.9L283.4 69.9L283.9 69.9L284.4 69.9L284.9 69.9L285.4 70.0L285.9 70.0L286.4 70.0L286.9 70.0L287.4 70.0L287.9 70.0L288.4 70.0L288.9 70.0L289.4 70.1L289.9 70.1L290.4 70.1L290.9 70.1" fill="none" stroke="#167c16" stroke-width="1.5" stroke-linejoin="round"/>
<rect x="33.9" y="14.8" width="257.90000000000003" height="190.6" fill="none" stroke="#000" stroke-width="1.5"/>
<text x="192.60" y="46.00" font-size="11.85" text-anchor="start" fill="#2a822a" font-weight="normal" stroke="#2a822a" stroke-width="0.1" >18.75 MW/cm<tspan dx="0.3" dy="-4.0" font-size="8.0">2</tspan></text>
<text x="196.60" y="91.30" font-size="11.85" text-anchor="start" fill="#3044b8" font-weight="normal" stroke="#3044b8" stroke-width="0.1" >8.76 MW/cm<tspan dx="0.3" dy="-4.0" font-size="8.0">2</tspan></text>
<text x="196.80" y="135.90" font-size="11.85" text-anchor="start" fill="#e03030" font-weight="normal" stroke="#e03030" stroke-width="0.1" >1.63 MW/cm<tspan dx="0.3" dy="-4.0" font-size="8.0">2</tspan></text>
<text x="198.30" y="180.60" font-size="11.85" text-anchor="start" fill="#202020" font-weight="normal" stroke="#202020" stroke-width="0.1" >0.14 MW/cm<tspan dx="0.3" dy="-4.0" font-size="8.0">2</tspan></text>
<text x="163.50" y="234.50" font-size="13.8" text-anchor="middle" fill="#000" font-weight="bold" >Wavelength (nm)</text>
<text x="13.00" y="111.80" font-size="13.95" text-anchor="middle" fill="#000" font-weight="bold" transform="rotate(-90 13.0 111.8)">Intensity (Norm.)</text>
<text x="2.00" y="12.70" font-size="14.6" text-anchor="start" fill="#000" font-weight="bold" >(a)</text>
<line x1="416.90" y1="205.80" x2="416.90" y2="203.30" stroke="#000" stroke-width="1.2" />
<line x1="416.90" y1="14.90" x2="416.90" y2="17.40" stroke="#000" stroke-width="1.2" />
<line x1="449.20" y1="205.80" x2="449.20" y2="201.80" stroke="#000" stroke-width="1.2" />
<line x1="449.20" y1="14.90" x2="449.20" y2="18.90" stroke="#000" stroke-width="1.2" />
<line x1="481.50" y1="205.80" x2="481.50" y2="203.30" stroke="#000" stroke-width="1.2" />
<line x1="481.50" y1="14.90" x2="481.50" y2="17.40" stroke="#000" stroke-width="1.2" />
<line x1="513.80" y1="205.80" x2="513.80" y2="201.80" stroke="#000" stroke-width="1.2" />
<line x1="513.80" y1="14.90" x2="513.80" y2="18.90" stroke="#000" stroke-width="1.2" />
<line x1="546.10" y1="205.80" x2="546.10" y2="203.30" stroke="#000" stroke-width="1.2" />
<line x1="546.10" y1="14.90" x2="546.10" y2="17.40" stroke="#000" stroke-width="1.2" />
<line x1="578.40" y1="205.80" x2="578.40" y2="201.80" stroke="#000" stroke-width="1.2" />
<line x1="578.40" y1="14.90" x2="578.40" y2="18.90" stroke="#000" stroke-width="1.2" />
<line x1="610.70" y1="205.80" x2="610.70" y2="203.30" stroke="#000" stroke-width="1.2" />
<line x1="610.70" y1="14.90" x2="610.70" y2="17.40" stroke="#000" stroke-width="1.2" />
<line x1="384.70" y1="181.50" x2="387.20" y2="181.50" stroke="#000" stroke-width="1.2" />
<line x1="643.00" y1="181.50" x2="640.50" y2="181.50" stroke="#000" stroke-width="1.2" />
<line x1="384.70" y1="157.70" x2="388.70" y2="157.70" stroke="#000" stroke-width="1.2" />
<line x1="643.00" y1="157.70" x2="639.00" y2="157.70" stroke="#000" stroke-width="1.2" />
<line x1="384.70" y1="133.90" x2="387.20" y2="133.90" stroke="#000" stroke-width="1.2" />
<line x1="643.00" y1="133.90" x2="640.50" y2="133.90" stroke="#000" stroke-width="1.2" />
<line x1="384.70" y1="110.10" x2="388.70" y2="110.10" stroke="#000" stroke-width="1.2" />
<line x1="643.00" y1="110.10" x2="639.00" y2="110.10" stroke="#000" stroke-width="1.2" />
<line x1="384.70" y1="86.30" x2="387.20" y2="86.30" stroke="#000" stroke-width="1.2" />
<line x1="643.00" y1="86.30" x2="640.50" y2="86.30" stroke="#000" stroke-width="1.2" />
<line x1="384.70" y1="62.50" x2="388.70" y2="62.50" stroke="#000" stroke-width="1.2" />
<line x1="643.00" y1="62.50" x2="639.00" y2="62.50" stroke="#000" stroke-width="1.2" />
<line x1="384.70" y1="38.70" x2="387.20" y2="38.70" stroke="#000" stroke-width="1.2" />
<line x1="643.00" y1="38.70" x2="640.50" y2="38.70" stroke="#000" stroke-width="1.2" />
<text x="386.80" y="217.50" font-size="11.2" text-anchor="middle" fill="#000" font-weight="normal" stroke="#000" stroke-width="0.1" >-100</text>
<text x="449.00" y="217.50" font-size="11.2" text-anchor="middle" fill="#000" font-weight="normal" stroke="#000" stroke-width="0.1" >0</text>
<text x="510.00" y="217.50" font-size="11.2" text-anchor="middle" fill="#000" font-weight="normal" stroke="#000" stroke-width="0.1" >100</text>
<text x="577.00" y="217.50" font-size="11.2" text-anchor="middle" fill="#000" font-weight="normal" stroke="#000" stroke-width="0.1" >200</text>
<text x="644.30" y="217.50" font-size="11.2" text-anchor="middle" fill="#000" font-weight="normal" stroke="#000" stroke-width="0.1" >300</text>
<text x="379.30" y="208.30" font-size="11.2" text-anchor="end" fill="#000" font-weight="normal" stroke="#000" stroke-width="0.1" >0</text>
<text x="379.30" y="161.10" font-size="11.2" text-anchor="end" fill="#000" font-weight="normal" stroke="#000" stroke-width="0.1" >1</text>
<text x="379.30" y="114.10" font-size="11.2" text-anchor="end" fill="#000" font-weight="normal" stroke="#000" stroke-width="0.1" >2</text>
<text x="379.30" y="66.60" font-size="11.2" text-anchor="end" fill="#000" font-weight="normal" stroke="#000" stroke-width="0.1" >3</text>
<text x="379.30" y="20.10" font-size="11.2" text-anchor="end" fill="#000" font-weight="normal" stroke="#000" stroke-width="0.1" >4</text>
<path d="M385.4 62.5L385.6 62.8L385.8 61.7L386.0 61.4L386.1 61.8L386.3 61.5L386.5 61.4L386.7 61.8L386.9 61.2L387.1 62.1L387.2 61.8L387.4 61.9L387.6 61.7L387.8 61.4L388.0 61.3L388.2 61.7L388.3 61.5L388.5 61.9L388.7 61.8L388.9 61.1L389.1 61.9L389.3 61.1L389.4 61.5L389.6 61.7L389.8 60.7L390.0 61.9L390.2 61.9L390.4 61.7L390.5 61.6L390.7 61.6L390.9 61.3L391.1 61.7L391.3 61.5L391.5 61.9L391.6 61.2L391.8 62.0L392.0 61.9L392.2 61.7L392.4 61.6L392.6 62.1L392.7 60.9L392.9 62.1L393.1 62.0L393.3 62.0L393.5 62.0L393.7 61.5L393.8 61.7L394.0 62.2L394.2 62.1L394.4 61.9L394.6 61.0L394.8 62.1L394.9 62.5L395.1 62.4L395.3 62.0L395.5 61.0L395.7 62.4L395.9 61.8L396.1 60.4L396.2 62.0L396.4 61.0L396.6 61.1L396.8 61.5L397.0 62.5L397.2 61.6L397.3 62.0L397.5 62.8L397.7 62.7L397.9 61.8L398.1 61.7L398.3 61.1L398.4 61.5L398.6 62.1L398.8 62.1L399.0 61.9L399.2 62.4L399.4 61.4L399.5 61.8L399.7 62.2L399.9 62.2L400.1 62.4L400.3 62.1L400.5 61.7L400.6 62.0L400.8 61.3L401.0 60.9L401.2 62.2L401.4 61.8L401.6 62.0L401.7 60.9L401.9 61.7L402.1 61.5L402.3 61.4L402.5 60.6L402.7 61.7L402.8 62.3L403.0 62.1L403.2 61.5L403.4 61.8L403.6 62.3L403.8 60.3L403.9 61.8L404.1 62.2L404.3 62.2L404.5 62.8L404.7 62.5L404.9 62.0L405.0 62.0L405.2 62.3L405.4 61.6L405.6 61.8L405.8 62.4L406.0 62.9L406.2 61.8L406.3 61.8L406.5 62.0L406.7 62.6L406.9 61.9L407.1 62.7L407.3 61.3L407.4 61.8L407.6 61.8L407.8 62.3L408.0 62.4L408.2 61.0L408.4 61.4L408.5 62.1L408.7 61.5L408.9 61.0L409.1 62.4L409.3 62.1L409.5 62.1L409.6 61.6L409.8 62.4L410.0 61.7L410.2 62.5L410.4 61.4L410.6 61.4L410.7 62.0L410.9 61.5L411.1 62.3L411.3 62.0L411.5 61.4L411.7 61.9L411.8 61.7L412.0 62.4L412.2 61.5L412.4 61.6L412.6 62.6L412.8 63.1L412.9 63.0L413.1 61.9L413.3 62.0L413.5 62.7L413.7 61.8L413.9 61.4L414.0 62.0L414.2 62.1L414.4 61.4L414.6 61.0L414.8 61.1L415.0 62.3L415.1 61.5L415.3 61.8L415.5 62.0L415.7 62.2L415.9 61.7L416.1 62.2L416.3 61.4L416.4 61.7L416.6 61.3L416.8 62.5L417.0 61.9L417.2 61.5L417.4 61.7L417.5 61.8L417.7 62.3L417.9 61.0L418.1 61.3L418.3 61.7L418.5 63.3L418.6 62.4L418.8 61.8L419.0 62.3L419.2 63.0L419.4 61.8L419.6 61.7L419.7 62.6L419.9 62.2L420.1 62.3L420.3 61.6L420.5 63.0L420.7 62.9L420.8 62.2L421.0 62.3L421.2 60.8L421.4 62.3L421.6 61.8L421.8 62.2L421.9 62.3L422.1 61.7L422.3 61.0L422.5 62.1L422.7 61.5L422.9 61.7L423.0 61.6L423.2 61.7L423.4 60.6L423.6 62.6L423.8 62.1L424.0 62.5L424.1 63.0L424.3 61.9L424.5 60.9L424.7 61.4L424.9 61.3L425.1 61.6L425.2 62.0L425.4 60.8L425.6 62.1L425.8 61.1L426.0 62.1L426.2 61.9L426.3 61.8L426.5 61.9L426.7 61.6L426.9 61.6L427.1 61.0L427.3 61.9L427.5 62.9L427.6 63.0L427.8 62.7L428.0 62.3L428.2 61.6L428.4 62.7L428.6 61.9L428.7 61.9L428.9 61.8L429.1 62.0L429.3 61.7L429.5 61.9L429.7 61.3L429.8 61.7L430.0 63.2L430.2 61.9L430.4 61.8L430.6 62.2L430.8 62.3L430.9 61.3L431.1 61.8L431.3 62.4L431.5 62.1L431.7 62.0L431.9 62.8L432.0 61.6L432.2 62.0L432.4 61.7L432.6 62.8L432.8 60.9L433.0 61.6L433.1 61.7L433.3 62.3L433.5 62.3L433.7 62.7L433.9 61.1L434.1 62.4L434.2 61.8L434.4 61.6L434.6 62.2L434.8 61.4L435.0 60.8L435.2 61.8L435.3 61.1L435.5 61.6L435.7 62.2L435.9 62.1L436.1 62.8L436.3 61.8L436.4 61.1L436.6 61.5L436.8 61.5L437.0 61.3L437.2 62.2L437.4 61.6L437.6 60.9L437.7 62.3L437.9 61.9L438.1 62.2L438.3 62.0L438.5 62.3L438.7 62.0L438.8 62.6L439.0 62.2L439.2 62.2L439.4 62.2L439.6 61.2L439.8 61.9L439.9 61.8L440.1 62.1L440.3 61.2L440.5 62.9L440.7 62.0L440.9 61.3L441.0 61.0L441.2 61.8L441.4 61.9L441.6 61.6L441.8 62.0L442.0 61.6L442.1 62.3L442.3 61.6L442.5 62.0L442.7 62.5L442.9 63.4L443.1 61.4L443.2 61.7L443.4 61.5L443.6 62.4L443.8 61.3L444.0 61.7L444.2 62.0L444.3 61.4L444.5 61.5L444.7 61.7L444.9 60.8L445.1 61.2L445.3 61.8L445.4 62.1L445.6 61.9L445.8 61.0L446.0 61.7L446.2 62.4L446.4 62.3L446.5 61.9L446.7 61.5L446.9 62.3L447.1 61.7L447.3 61.3L447.5 61.6L447.7 62.8L447.8 62.1L448.0 62.6L448.2 61.7L448.4 62.5L448.6 61.7L448.8 61.9L448.9 63.4L449.1 62.4L449.3 61.7L449.5 62.0L449.7 62.2L449.9 62.7L450.0 61.7L450.2 61.0L450.4 61.8L450.6 62.0L450.8 62.0L451.0 62.7L451.1 62.2L451.3 62.4L451.5 61.4L451.7 62.4L451.9 63.1L452.1 62.4L452.2 62.1L452.4 62.0L452.6 62.9L452.8 61.4L453.0 61.9L453.2 62.2L453.3 62.3L453.5 61.7L453.7 62.1L453.9 61.8L454.1 62.0L454.3 61.8L454.4 61.3L454.6 61.9L454.8 62.4L455.0 61.4L455.2 61.8L455.4 62.2L455.5 61.2L455.7 61.8L455.9 61.0L456.1 62.0L456.3 62.5L456.5 62.2L456.6 60.8L456.8 61.1L457.0 60.5L457.2 60.2L457.4 60.6L457.6 58.4L457.8 59.0L457.9 57.4L458.1 57.2L458.3 55.3L458.5 53.7L458.7 53.0L458.9 52.1L459.0 50.5L459.2 49.6L459.4 47.8L459.6 45.7L459.8 46.0L460.0 44.4L460.1 42.4L460.3 40.6L460.5 39.2L460.7 36.5L460.9 34.5L461.1 32.9L461.2 31.9L461.4 28.9L461.6 29.1L461.8 27.0L462.0 25.9L462.2 26.5L462.3 25.0L462.5 23.7L462.7 23.5L462.9 23.5L463.1 23.1L463.3 21.6L463.4 21.6L463.6 21.3L463.8 20.1L464.0 20.2L464.2 19.6L464.4 19.0L464.5 18.7L464.7 18.8L464.9 18.5L465.1 18.1L465.3 18.0L465.5 18.9L465.6 18.5L465.8 19.0L466.0 19.5L466.2 19.3L466.4 20.5L466.6 19.1L466.7 20.3L466.9 20.0L467.1 21.6L467.3 22.0L467.5 20.5L467.7 21.5L467.9 22.8L468.0 23.4L468.2 23.9L468.4 24.0L468.6 24.8L468.8 25.6L469.0 25.8L469.1 27.0L469.3 25.9L469.5 28.1L469.7 27.9L469.9 29.6L470.1 29.7L470.2 30.1L470.4 31.5L470.6 31.6L470.8 32.3L471.0 32.7L471.2 34.3L471.3 35.3L471.5 36.4L471.7 36.5L471.9 37.9L472.1 38.2L472.3 38.9L472.4 40.1L472.6 41.2L472.8 41.2L473.0 42.1L473.2 42.9L473.4 43.8L473.5 43.9L473.7 45.5L473.9 45.2L474.1 46.0L474.3 45.6L474.5 46.6L474.6 46.9L474.8 46.8L475.0 48.5L475.2 47.9L475.4 48.9L475.6 48.8L475.7 48.1L475.9 48.5L476.1 49.2L476.3 49.2L476.5 49.4L476.7 49.4L476.8 48.8L477.0 49.8L477.2 49.0L477.4 50.6L477.6 50.2L477.8 50.3L478.0 50.8L478.1 51.2L478.3 50.5L478.5 50.5L478.7 51.0L478.9 50.6L479.1 51.4L479.2 53.0L479.4 51.7L479.6 52.8L479.8 51.8L480.0 52.9L480.2 52.7L480.3 53.0L480.5 53.5L480.7 54.3L480.9 53.5L481.1 53.6L481.3 53.1L481.4 54.1L481.6 53.8L481.8 54.5L482.0 54.1L482.2 55.3L482.4 53.3L482.5 54.4L482.7 55.2L482.9 54.6L483.1 54.4L483.3 54.8L483.5 54.3L483.6 55.2L483.8 56.5L484.0 55.9L484.2 54.8L484.4 55.0L484.6 55.3L484.7 56.2L484.9 55.2L485.1 55.4L485.3 56.3L485.5 56.4L485.7 55.8L485.8 55.5L486.0 55.3L486.2 55.9L486.4 55.1L486.6 56.8L486.8 56.1L486.9 56.8L487.1 57.7L487.3 57.3L487.5 56.1L487.7 57.3L487.9 57.5L488.0 56.5L488.2 56.4L488.4 57.0L488.6 56.2L488.8 57.9L489.0 55.9L489.2 56.6L489.3 57.1L489.5 57.2L489.7 57.5L489.9 57.6L490.1 57.4L490.3 58.2L490.4 56.4L490.6 57.7L490.8 57.3L491.0 57.9L491.2 58.0L491.4 57.4L491.5 57.6L491.7 58.4L491.9 58.2L492.1 57.7L492.3 59.2L492.5 59.4L492.6 57.4L492.8 58.4L493.0 59.6L493.2 58.7L493.4 58.4L493.6 58.2L493.7 58.1L493.9 58.3L494.1 58.2L494.3 58.9L494.5 58.3L494.7 58.3L494.8 57.9L495.0 58.6L495.2 58.2L495.4 58.6L495.6 59.3L495.8 59.0L495.9 59.1L496.1 59.0L496.3 58.9L496.5 58.9L496.7 58.8L496.9 59.4L497.0 58.4L497.2 59.8L497.4 59.1L497.6 58.7L497.8 58.9L498.0 58.8L498.1 59.3L498.3 58.9L498.5 59.9L498.7 58.9L498.9 58.1L499.1 59.0L499.3 58.4L499.4 59.5L499.6 60.1L499.8 59.9L500.0 58.9L500.2 59.2L500.4 60.6L500.5 59.8L500.7 59.7L500.9 60.3L501.1 61.1L501.3 60.5L501.5 59.9L501.6 60.0L501.8 60.2L502.0 59.5L502.2 59.3L502.4 59.9L502.6 59.4L502.7 59.9L502.9 60.0L503.1 61.3L503.3 59.5L503.5 60.0L503.7 60.0L503.8 60.3L504.0 60.7L504.2 59.8L504.4 59.7L504.6 59.3L504.8 59.7L504.9 60.5L505.1 60.2L505.3 59.7L505.5 60.1L505.7 60.3L505.9 60.6L506.0 60.0L506.2 60.2L506.4 59.4L506.6 59.8L506.8 61.3L507.0 59.2L507.1 60.3L507.3 60.6L507.5 60.3L507.7 60.1L507.9 60.5L508.1 60.6L508.2 60.6L508.4 59.6L508.6 60.6L508.8 60.2L509.0 60.4L509.2 60.8L509.4 61.1L509.5 61.3L509.7 60.5L509.9 61.3L510.1 61.5L510.3 61.5L510.5 61.6L510.6 60.8L510.8 60.8L511.0 61.4L511.2 60.2L511.4 61.1L511.6 60.7L511.7 60.8L511.9 60.1L512.1 60.5L512.3 61.0L512.5 61.5L512.7 61.6L512.8 61.0L513.0 61.0L513.2 60.6L513.4 61.3L513.6 61.0L513.8 61.5L513.9 62.1L514.1 61.1L514.3 60.3L514.5 60.7L514.7 60.4L514.9 60.5L515.0 61.9L515.2 61.3L515.4 60.4L515.6 61.6L515.8 61.9L516.0 61.0L516.1 60.9L516.3 61.1L516.5 61.4L516.7 61.6L516.9 61.9L517.1 62.0L517.2 62.0L517.4 62.1L517.6 61.7L517.8 60.5L518.0 61.3L518.2 61.5L518.3 61.2L518.5 61.9L518.7 61.2L518.9 60.9L519.1 62.2L519.3 61.8L519.5 61.6L519.6 61.9L519.8 62.0L520.0 61.6L520.2 60.1L520.4 61.1L520.6 61.2L520.7 61.0L520.9 61.6L521.1 62.2L521.3 61.3L521.5 60.9L521.7 62.7L521.8 61.3L522.0 60.9L522.2 61.7L522.4 61.8L522.6 61.2L522.8 62.0L522.9 61.4L523.1 61.1L523.3 61.7L523.5 62.1L523.7 61.3L523.9 61.8L524.0 61.6L524.2 63.2L524.4 61.3L524.6 62.5L524.8 61.7L525.0 61.7L525.1 62.1L525.3 62.2L525.5 62.5L525.7 61.9L525.9 61.4L526.1 61.5L526.2 62.1L526.4 62.1L526.6 62.6L526.8 62.1L527.0 62.4L527.2 62.7L527.3 61.9L527.5 61.0L527.7 61.2L527.9 61.1L528.1 62.8L528.3 61.4L528.4 62.6L528.6 62.2L528.8 62.9L529.0 62.5L529.2 61.9L529.4 61.9L529.6 62.0L529.7 62.1L529.9 61.7L530.1 62.0L530.3 62.9L530.5 61.1L530.7 62.1L530.8 61.5L531.0 62.1L531.2 62.5L531.4 62.0L531.6 62.4L531.8 61.1L531.9 62.6L532.1 61.7L532.3 62.4L532.5 62.1L532.7 60.6L532.9 61.6L533.0 62.1L533.2 62.9L533.4 62.2L533.6 62.2L533.8 61.2L534.0 62.8L534.1 63.0L534.3 62.0L534.5 61.9L534.7 61.1L534.9 62.5L535.1 63.5L535.2 62.4L535.4 62.7L535.6 62.3L535.8 61.5L536.0 62.8L536.2 61.3L536.3 61.9L536.5 62.2L536.7 62.5L536.9 62.3L537.1 62.2L537.3 61.6L537.4 61.3L537.6 62.1L537.8 61.6L538.0 61.3L538.2 61.3L538.4 61.8L538.5 61.0L538.7 61.3L538.9 61.1L539.1 62.1L539.3 62.3L539.5 63.1L539.7 61.2L539.8 61.7L540.0 62.5L540.2 61.9L540.4 61.9L540.6 63.0L540.8 61.9L540.9 61.4L541.1 61.3L541.3 62.2L541.5 62.2L541.7 61.3L541.9 61.5L542.0 62.3L542.2 62.4L542.4 61.7L542.6 62.4L542.8 62.4L543.0 61.1L543.1 61.9L543.3 62.3L543.5 61.7L543.7 60.9L543.9 61.9L544.1 62.5L544.2 62.9L544.4 60.8L544.6 63.5L544.8 61.4L545.0 62.6L545.2 62.7L545.3 62.6L545.5 62.1L545.7 61.4L545.9 62.4L546.1 61.7L546.3 60.7L546.4 63.6L546.6 62.4L546.8 63.1L547.0 61.6L547.2 62.9L547.4 62.9L547.5 62.9L547.7 62.1L547.9 61.4L548.1 62.0L548.3 60.9L548.5 61.1L548.6 62.1L548.8 61.5L549.0 62.0L549.2 62.0L549.4 63.1L549.6 62.8L549.7 62.0L549.9 62.7L550.1 61.6L550.3 61.9L550.5 62.6L550.7 61.4L550.9 61.9L551.0 61.3L551.2 62.1L551.4 63.0L551.6 61.7L551.8 62.2L552.0 61.6L552.1 61.4L552.3 61.4L552.5 62.9L552.7 63.4L552.9 62.3L553.1 61.7L553.2 62.5L553.4 61.9L553.6 62.5L553.8 62.2L554.0 62.2L554.2 62.4L554.3 61.8L554.5 61.9L554.7 61.1L554.9 61.8L555.1 61.3L555.3 62.0L555.4 61.6L555.6 62.1L555.8 62.3L556.0 61.3L556.2 61.6L556.4 61.6L556.5 62.5L556.7 63.0L556.9 62.6L557.1 61.9L557.3 62.9L557.5 61.3L557.6 62.9L557.8 61.7L558.0 60.6L558.2 63.6L558.4 63.0L558.6 61.5L558.7 62.2L558.9 62.0L559.1 62.2L559.3 61.3L559.5 61.7L559.7 62.4L559.8 62.2L560.0 62.8L560.2 62.2L560.4 63.4L560.6 61.7L560.8 62.3L561.0 61.1L561.1 61.4L561.3 62.8L561.5 61.6L561.7 62.4L561.9 62.1L562.1 61.5L562.2 61.9L562.4 61.8L562.6 61.8L562.8 62.5L563.0 62.5L563.2 61.8L563.3 61.6L563.5 62.3L563.7 62.1L563.9 62.7L564.1 63.6L564.3 62.6L564.4 62.1L564.6 62.0L564.8 61.7L565.0 61.6L565.2 61.6L565.4 61.9L565.5 61.9L565.7 62.5L565.9 61.9L566.1 62.0L566.3 61.5L566.5 63.0L566.6 62.4L566.8 63.1L567.0 62.6L567.2 63.0L567.4 62.0L567.6 62.5L567.7 63.6L567.9 61.5L568.1 62.8L568.3 63.1L568.5 62.4L568.7 62.6L568.8 62.8L569.0 61.8L569.2 62.4L569.4 61.7L569.6 61.8L569.8 61.8L569.9 62.1L570.1 62.2L570.3 62.4L570.5 61.3L570.7 63.3L570.9 62.8L571.1 62.6L571.2 61.9L571.4 62.1L571.6 62.5L571.8 62.4L572.0 61.2L572.2 62.6L572.3 63.8L572.5 61.1L572.7 62.7L572.9 62.4L573.1 62.1L573.3 62.9L573.4 61.5L573.6 62.2L573.8 63.0L574.0 62.0L574.2 61.9L574.4 62.2L574.5 61.9L574.7 63.0L574.9 61.6L575.1 62.7L575.3 61.5L575.5 62.5L575.6 62.1L575.8 60.7L576.0 62.2L576.2 61.6L576.4 61.9L576.6 63.0L576.7 61.5L576.9 61.6L577.1 63.0L577.3 62.2L577.5 63.0L577.7 62.4L577.8 61.7L578.0 62.1L578.2 62.9L578.4 62.7L578.6 62.2L578.8 62.2L578.9 62.1L579.1 61.8L579.3 63.3L579.5 62.2L579.7 61.5L579.9 61.9L580.0 62.6L580.2 62.5L580.4 62.1L580.6 61.8L580.8 62.2L581.0 61.2L581.2 61.4L581.3 62.6L581.5 61.9L581.7 62.4L581.9 62.9L582.1 62.6L582.3 62.2L582.4 63.4L582.6 62.6L582.8 62.0L583.0 62.6L583.2 62.4L583.4 61.7L583.5 62.2L583.7 62.1L583.9 61.1L584.1 62.1L584.3 62.0L584.5 61.9L584.6 61.3L584.8 62.0L585.0 62.2L585.2 62.3L585.4 61.6L585.6 62.6L585.7 61.5L585.9 62.1L586.1 62.9L586.3 61.8L586.5 61.9L586.7 62.8L586.8 62.0L587.0 62.0L587.2 62.3L587.4 62.8L587.6 61.0L587.8 61.7L587.9 61.6L588.1 61.6L588.3 61.7L588.5 61.7L588.7 62.4L588.9 61.7L589.0 62.3L589.2 62.4L589.4 61.8L589.6 62.3L589.8 63.1L590.0 62.4L590.1 61.9L590.3 62.2L590.5 61.7L590.7 62.4L590.9 62.7L591.1 61.8L591.3 62.1L591.4 62.8L591.6 61.9L591.8 62.3L592.0 61.6L592.2 61.8L592.4 61.9L592.5 63.4L592.7 62.0L592.9 61.9L593.1 61.9L593.3 62.1L593.5 62.6L593.6 62.3L593.8 63.4L594.0 62.3L594.2 63.0L594.4 62.4L594.6 62.6L594.7 61.4L594.9 62.2L595.1 62.2L595.3 62.1L595.5 61.0L595.7 62.7L595.8 62.0L596.0 62.0L596.2 62.1L596.4 62.1L596.6 62.5L596.8 61.5L596.9 61.7L597.1 62.4L597.3 62.3L597.5 62.0L597.7 61.9L597.9 61.8L598.0 62.2L598.2 62.9L598.4 61.7L598.6 63.1L598.8 62.7L599.0 62.0L599.1 62.7L599.3 61.4L599.5 61.3L599.7 61.5L599.9 62.0L600.1 62.1L600.2 62.0L600.4 62.3L600.6 61.1L600.8 62.5L601.0 61.5L601.2 61.9L601.4 62.0L601.5 61.6L601.7 61.5L601.9 61.7L602.1 62.2L602.3 62.6L602.5 62.6L602.6 61.7L602.8 61.8L603.0 61.8L603.2 62.5L603.4 61.1L603.6 62.9L603.7 62.0L603.9 61.8L604.1 62.4L604.3 62.8L604.5 62.5L604.7 62.8L604.8 62.3L605.0 62.9L605.2 63.0L605.4 62.2L605.6 63.1L605.8 62.4L605.9 62.3L606.1 61.8L606.3 62.1L606.5 62.7L606.7 61.5L606.9 62.6L607.0 62.5L607.2 62.4L607.4 61.1L607.6 62.2L607.8 62.6L608.0 61.9L608.1 62.3L608.3 61.0L608.5 62.6L608.7 61.9L608.9 62.8L609.1 61.3L609.2 62.7L609.4 62.2L609.6 62.7L609.8 61.8L610.0 61.9L610.2 63.5L610.3 61.8L610.5 61.9L610.7 62.1L610.9 61.7L611.1 62.9L611.3 63.2L611.4 61.9L611.6 61.3L611.8 62.9L612.0 62.9L612.2 62.7L612.4 62.9L612.6 61.8L612.7 62.2L612.9 61.5L613.1 61.5L613.3 62.8L613.5 61.9L613.7 63.5L613.8 62.3L614.0 61.9L614.2 62.7L614.4 63.3L614.6 62.6L614.8 61.6L614.9 62.5L615.1 63.1L615.3 62.0L615.5 61.9L615.7 62.9L615.9 62.4L616.0 61.7L616.2 62.1L616.4 61.9L616.6 62.5L616.8 62.4L617.0 62.9L617.1 62.7L617.3 61.4L617.5 62.5L617.7 62.8L617.9 62.6L618.1 62.9L618.2 62.0L618.4 61.8L618.6 62.8L618.8 61.7L619.0 61.1L619.2 62.9L619.3 61.9L619.5 62.1L619.7 61.5L619.9 61.6L620.1 61.7L620.3 62.1L620.4 62.5L620.6 61.1L620.8 62.7L621.0 61.7L621.2 61.7L621.4 62.7L621.5 62.3L621.7 61.5L621.9 63.3L622.1 61.9L622.3 62.5L622.5 62.4L622.7 63.1L622.8 62.1L623.0 62.9L623.2 61.9L623.4 62.9L623.6 61.9L623.8 62.1L623.9 63.4L624.1 62.5L624.3 62.4L624.5 63.6L624.7 62.5L624.9 61.9L625.0 62.7L625.2 61.7L625.4 63.0L625.6 63.0L625.8 62.0L626.0 62.0L626.1 62.4L626.3 62.3L626.5 61.8L626.7 62.7L626.9 61.2L627.1 62.1L627.2 62.1L627.4 62.2L627.6 62.5L627.8 61.7L628.0 62.7L628.2 62.2L628.3 62.0L628.5 61.6L628.7 61.7L628.9 62.5L629.1 61.8L629.3 62.4L629.4 62.9L629.6 62.9L629.8 63.2L630.0 62.2L630.2 61.8L630.4 62.9L630.5 62.5L630.7 63.0L630.9 62.4L631.1 63.0L631.3 62.8L631.5 62.8L631.6 62.6L631.8 62.6L632.0 62.5L632.2 62.5L632.4 62.9L632.6 62.1L632.8 63.3L632.9 62.3L633.1 62.9L633.3 62.3L633.5 62.2L633.7 63.5L633.9 62.2L634.0 61.7L634.2 62.0L634.4 62.2L634.6 63.6L634.8 62.5L635.0 62.9L635.1 61.8L635.3 62.6L635.5 62.7L635.7 63.4L635.9 62.0L636.1 62.7L636.2 62.5L636.4 61.8L636.6 62.4L636.8 62.2L637.0 61.1L637.2 62.7L637.3 62.7L637.5 62.1L637.7 61.6L637.9 63.2L638.1 62.5L638.3 62.9L638.4 63.2L638.6 62.1L638.8 62.8L639.0 62.3L639.2 62.4L639.4 62.3L639.5 62.4L639.7 63.0L639.9 62.5L640.1 62.3L640.3 62.2L640.5 62.6L640.6 61.9L640.8 62.1L641.0 62.4L641.2 62.1L641.4 62.3L641.6 62.1L641.7 63.5L641.9 63.1L642.1 62.6L642.3 62.4" fill="none" stroke="#167c16" stroke-width="1.45" stroke-linejoin="round"/>
<path d="M385.4 110.2L385.6 109.2L385.8 109.0L386.0 109.2L386.1 109.2L386.3 109.8L386.5 109.0L386.7 110.2L386.9 108.5L387.1 109.4L387.2 108.4L387.4 110.0L387.6 108.8L387.8 109.0L388.0 109.5L388.2 109.7L388.3 108.4L388.5 108.8L388.7 108.2L388.9 109.1L389.1 108.9L389.3 108.8L389.4 108.6L389.6 108.8L389.8 108.6L390.0 109.3L390.2 109.8L390.4 107.9L390.5 108.9L390.7 108.8L390.9 109.3L391.1 108.5L391.3 108.9L391.5 108.4L391.6 109.4L391.8 109.1L392.0 108.9L392.2 109.2L392.4 108.9L392.6 108.1L392.7 109.3L392.9 109.2L393.1 108.9L393.3 109.5L393.5 109.7L393.7 108.4L393.8 108.6L394.0 109.9L394.2 109.8L394.4 108.6L394.6 108.4L394.8 108.6L394.9 108.7L395.1 108.1L395.3 109.0L395.5 108.3L395.7 108.3L395.9 109.5L396.1 108.6L396.2 109.0L396.4 109.3L396.6 109.4L396.8 108.8L397.0 109.0L397.2 108.5L397.3 110.0L397.5 109.4L397.7 108.4L397.9 109.0L398.1 109.4L398.3 109.3L398.4 110.0L398.6 109.8L398.8 108.7L399.0 109.0L399.2 108.3L399.4 109.1L399.5 109.1L399.7 110.5L399.9 109.1L400.1 107.8L400.3 108.6L400.5 109.1L400.6 108.3L400.8 108.5L401.0 108.8L401.2 109.2L401.4 108.9L401.6 108.5L401.7 109.4L401.9 108.7L402.1 108.7L402.3 108.2L402.5 108.6L402.7 109.4L402.8 108.1L403.0 109.0L403.2 109.4L403.4 108.8L403.6 109.1L403.8 108.4L403.9 109.7L404.1 109.6L404.3 109.1L404.5 108.0L404.7 108.4L404.9 109.5L405.0 109.9L405.2 109.2L405.4 109.7L405.6 108.7L405.8 108.9L406.0 109.0L406.2 109.2L406.3 108.2L406.5 109.5L406.7 109.7L406.9 108.4L407.1 108.3L407.3 109.2L407.4 108.6L407.6 107.7L407.8 109.4L408.0 109.1L408.2 108.7L408.4 110.2L408.5 109.1L408.7 108.6L408.9 109.1L409.1 108.4L409.3 108.6L409.5 109.2L409.6 108.7L409.8 108.8L410.0 109.9L410.2 109.5L410.4 109.4L410.6 109.3L410.7 109.3L410.9 109.8L411.1 109.0L411.3 110.0L411.5 108.5L411.7 108.9L411.8 108.2L412.0 108.8L412.2 109.3L412.4 109.8L412.6 108.6L412.8 109.0L412.9 108.8L413.1 108.6L413.3 108.3L413.5 109.0L413.7 108.0L413.9 109.1L414.0 109.0L414.2 108.6L414.4 108.4L414.6 108.2L414.8 110.0L415.0 108.3L415.1 109.9L415.3 109.3L415.5 108.8L415.7 108.4L415.9 109.6L416.1 110.0L416.3 108.5L416.4 108.8L416.6 109.6L416.8 109.2L417.0 110.1L417.2 108.7L417.4 109.3L417.5 108.3L417.7 110.2L417.9 108.6L418.1 107.8L418.3 108.9L418.5 108.9L418.6 110.1L418.8 108.8L419.0 109.0L419.2 109.3L419.4 109.9L419.6 109.0L419.7 109.6L419.9 109.3L420.1 108.8L420.3 109.0L420.5 109.0L420.7 108.5L420.8 109.7L421.0 108.2L421.2 109.6L421.4 109.5L421.6 108.9L421.8 108.6L421.9 108.9L422.1 109.3L422.3 109.4L422.5 109.2L422.7 109.5L422.9 108.7L423.0 109.1L423.2 108.1L423.4 109.4L423.6 109.1L423.8 108.8L424.0 109.6L424.1 109.4L424.3 107.5L424.5 109.0L424.7 108.2L424.9 109.6L425.1 110.4L425.2 108.7L425.4 109.0L425.6 108.9L425.8 109.2L426.0 109.4L426.2 109.7L426.3 108.5L426.5 109.9L426.7 108.5L426.9 109.2L427.1 109.6L427.3 109.4L427.5 108.5L427.6 108.6L427.8 108.7L428.0 109.0L428.2 109.6L428.4 108.3L428.6 109.3L428.7 109.3L428.9 109.3L429.1 109.3L429.3 109.8L429.5 109.3L429.7 109.5L429.8 109.3L430.0 110.0L430.2 108.0L430.4 109.7L430.6 108.9L430.8 108.8L430.9 108.5L431.1 108.0L431.3 108.8L431.5 108.6L431.7 109.3L431.9 108.2L432.0 109.8L432.2 109.1L432.4 108.9L432.6 108.6L432.8 108.6L433.0 108.4L433.1 108.7L433.3 109.0L433.5 108.9L433.7 108.2L433.9 108.9L434.1 108.5L434.2 109.1L434.4 110.0L434.6 109.3L434.8 108.8L435.0 108.1L435.2 108.2L435.3 108.1L435.5 109.4L435.7 108.6L435.9 109.0L436.1 108.7L436.3 109.1L436.4 109.8L436.6 108.6L436.8 108.8L437.0 108.6L437.2 109.5L437.4 108.4L437.6 108.4L437.7 108.2L437.9 108.2L438.1 109.3L438.3 110.4L438.5 108.5L438.7 109.5L438.8 109.1L439.0 108.4L439.2 108.8L439.4 108.9L439.6 108.6L439.8 110.1L439.9 108.0L440.1 109.2L440.3 109.2L440.5 108.7L440.7 109.1L440.9 109.5L441.0 109.1L441.2 109.2L441.4 109.4L441.6 107.9L441.8 109.8L442.0 110.3L442.1 109.5L442.3 109.6L442.5 108.2L442.7 108.9L442.9 108.6L443.1 108.7L443.2 109.5L443.4 108.6L443.6 108.9L443.8 108.0L444.0 108.9L444.2 109.0L444.3 108.6L444.5 108.6L444.7 110.0L444.9 108.3L445.1 108.4L445.3 108.6L445.4 109.7L445.6 110.2L445.8 109.2L446.0 108.6L446.2 108.8L446.4 109.6L446.5 108.5L446.7 109.8L446.9 109.8L447.1 109.0L447.3 109.4L447.5 109.4L447.7 109.9L447.8 108.4L448.0 109.6L448.2 108.8L448.4 108.6L448.6 109.1L448.8 108.9L448.9 108.5L449.1 108.1L449.3 108.5L449.5 109.8L449.7 110.1L449.9 109.4L450.0 109.7L450.2 108.7L450.4 109.0L450.6 109.2L450.8 108.4L451.0 108.5L451.1 109.1L451.3 108.8L451.5 108.4L451.7 109.2L451.9 108.9L452.1 109.6L452.2 109.0L452.4 108.8L452.6 109.1L452.8 108.9L453.0 108.6L453.2 108.8L453.3 109.4L453.5 109.4L453.7 109.7L453.9 108.1L454.1 108.8L454.3 108.8L454.4 109.1L454.6 108.8L454.8 108.7L455.0 109.4L455.2 109.1L455.4 108.3L455.5 109.7L455.7 109.5L455.9 108.6L456.1 109.4L456.3 108.5L456.5 109.5L456.6 108.8L456.8 108.5L457.0 108.7L457.2 108.5L457.4 109.0L457.6 109.0L457.8 108.9L457.9 108.5L458.1 106.8L458.3 108.9L458.5 107.8L458.7 108.9L458.9 109.4L459.0 108.9L459.2 108.6L459.4 108.7L459.6 108.7L459.8 108.4L460.0 108.4L460.1 108.2L460.3 109.3L460.5 108.5L460.7 108.8L460.9 107.9L461.1 107.8L461.2 107.4L461.4 107.4L461.6 107.1L461.8 106.2L462.0 105.0L462.2 104.1L462.3 104.4L462.5 102.3L462.7 101.3L462.9 101.2L463.1 100.0L463.3 98.6L463.4 96.8L463.6 97.0L463.8 94.5L464.0 93.0L464.2 91.0L464.4 88.8L464.5 87.2L464.7 86.6L464.9 85.2L465.1 83.5L465.3 81.8L465.5 80.5L465.6 80.1L465.8 78.4L466.0 78.6L466.2 77.7L466.4 77.6L466.6 75.5L466.7 73.7L466.9 72.6L467.1 70.2L467.3 70.8L467.5 70.0L467.7 69.7L467.9 68.6L468.0 67.8L468.2 67.0L468.4 66.8L468.6 66.9L468.8 65.2L469.0 65.2L469.1 64.5L469.3 66.0L469.5 65.7L469.7 65.4L469.9 64.4L470.1 65.3L470.2 65.2L470.4 65.5L470.6 65.4L470.8 66.0L471.0 65.6L471.2 66.5L471.3 66.4L471.5 66.3L471.7 66.6L471.9 66.7L472.1 67.6L472.3 67.2L472.4 67.8L472.6 67.8L472.8 67.6L473.0 69.4L473.2 68.8L473.4 70.3L473.5 70.7L473.7 70.0L473.9 70.9L474.1 71.7L474.3 72.0L474.5 72.3L474.6 73.9L474.8 73.9L475.0 74.9L475.2 75.1L475.4 76.2L475.6 76.3L475.7 77.4L475.9 78.4L476.1 78.8L476.3 79.2L476.5 79.5L476.7 80.9L476.8 81.7L477.0 82.1L477.2 82.5L477.4 83.9L477.6 85.6L477.8 84.7L478.0 85.6L478.1 86.2L478.3 85.1L478.5 87.0L478.7 87.1L478.9 88.7L479.1 88.3L479.2 88.5L479.4 89.3L479.6 90.0L479.8 90.1L480.0 90.9L480.2 90.7L480.3 91.8L480.5 92.8L480.7 94.0L480.9 93.7L481.1 93.9L481.3 94.9L481.4 95.1L481.6 95.8L481.8 95.8L482.0 95.4L482.2 96.0L482.4 96.2L482.5 96.6L482.7 96.8L482.9 96.6L483.1 96.2L483.3 97.2L483.5 96.8L483.6 98.2L483.8 98.4L484.0 97.7L484.2 99.3L484.4 99.6L484.6 99.4L484.7 100.5L484.9 100.9L485.1 99.4L485.3 100.9L485.5 100.8L485.7 101.0L485.8 101.5L486.0 100.7L486.2 100.9L486.4 100.8L486.6 101.0L486.8 101.4L486.9 100.8L487.1 101.1L487.3 102.1L487.5 101.8L487.7 102.2L487.9 101.0L488.0 101.7L488.2 101.9L488.4 102.3L488.6 102.1L488.8 103.0L489.0 102.6L489.2 102.7L489.3 102.8L489.5 103.2L489.7 102.7L489.9 103.7L490.1 103.4L490.3 103.3L490.4 103.3L490.6 103.7L490.8 104.1L491.0 104.1L491.2 103.9L491.4 104.2L491.5 103.9L491.7 104.6L491.9 103.9L492.1 102.8L492.3 104.8L492.5 104.1L492.6 103.5L492.8 104.0L493.0 103.7L493.2 105.4L493.4 104.6L493.6 103.5L493.7 104.7L493.9 104.2L494.1 105.5L494.3 103.9L494.5 103.3L494.7 104.7L494.8 104.5L495.0 104.5L495.2 103.6L495.4 105.0L495.6 105.8L495.8 103.8L495.9 105.6L496.1 104.7L496.3 106.3L496.5 105.3L496.7 105.0L496.9 105.8L497.0 105.5L497.2 104.9L497.4 105.7L497.6 105.1L497.8 104.4L498.0 106.6L498.1 105.3L498.3 105.2L498.5 105.8L498.7 104.8L498.9 104.9L499.1 105.4L499.3 105.5L499.4 105.8L499.6 106.5L499.8 105.6L500.0 106.2L500.2 106.3L500.4 105.4L500.5 106.2L500.7 105.6L500.9 106.8L501.1 106.5L501.3 106.3L501.5 105.6L501.6 106.4L501.8 106.0L502.0 106.8L502.2 106.4L502.4 106.1L502.6 107.1L502.7 107.0L502.9 106.4L503.1 107.4L503.3 106.6L503.5 106.7L503.7 106.9L503.8 106.5L504.0 106.7L504.2 106.9L504.4 107.9L504.6 107.9L504.8 107.0L504.9 108.1L505.1 107.2L505.3 107.5L505.5 107.8L505.7 107.6L505.9 108.8L506.0 107.6L506.2 106.9L506.4 108.3L506.6 107.4L506.8 107.5L507.0 106.1L507.1 108.3L507.3 108.3L507.5 108.3L507.7 108.4L507.9 108.9L508.1 108.0L508.2 108.6L508.4 107.7L508.6 107.9L508.8 108.8L509.0 108.4L509.2 107.5L509.4 108.5L509.5 108.3L509.7 108.0L509.9 108.7L510.1 108.3L510.3 107.7L510.5 108.0L510.6 109.6L510.8 107.9L511.0 108.9L511.2 109.1L511.4 109.2L511.6 108.2L511.7 108.8L511.9 109.0L512.1 109.4L512.3 108.7L512.5 108.4L512.7 109.6L512.8 109.7L513.0 109.3L513.2 108.7L513.4 109.3L513.6 109.2L513.8 109.6L513.9 108.4L514.1 109.2L514.3 109.1L514.5 108.5L514.7 109.3L514.9 109.2L515.0 109.0L515.2 109.4L515.4 108.4L515.6 109.2L515.8 109.5L516.0 109.4L516.1 109.8L516.3 108.6L516.5 108.4L516.7 109.4L516.9 109.6L517.1 110.5L517.2 109.7L517.4 108.9L517.6 109.8L517.8 108.9L518.0 108.6L518.2 110.8L518.3 109.6L518.5 109.8L518.7 109.7L518.9 110.4L519.1 109.6L519.3 110.1L519.5 108.9L519.6 108.7L519.8 110.3L520.0 110.3L520.2 109.8L520.4 109.6L520.6 109.6L520.7 109.2L520.9 110.4L521.1 109.9L521.3 109.8L521.5 109.8L521.7 110.2L521.8 109.9L522.0 110.0L522.2 109.0L522.4 109.9L522.6 110.9L522.8 109.4L522.9 109.6L523.1 110.2L523.3 110.2L523.5 110.1L523.7 108.8L523.9 110.0L524.0 109.1L524.2 109.3L524.4 110.1L524.6 109.6L524.8 110.2L525.0 111.5L525.1 110.2L525.3 110.2L525.5 109.3L525.7 109.4L525.9 109.2L526.1 109.5L526.2 109.2L526.4 109.4L526.6 109.7L526.8 109.3L527.0 109.0L527.2 109.1L527.3 110.1L527.5 109.8L527.7 110.4L527.9 110.4L528.1 109.6L528.3 110.2L528.4 109.0L528.6 111.1L528.8 110.5L529.0 109.7L529.2 109.2L529.4 110.0L529.6 108.8L529.7 109.4L529.9 110.2L530.1 109.9L530.3 109.5L530.5 110.3L530.7 109.2L530.8 110.0L531.0 109.5L531.2 109.4L531.4 110.1L531.6 109.3L531.8 110.9L531.9 109.5L532.1 110.9L532.3 109.2L532.5 110.2L532.7 109.2L532.9 109.1L533.0 109.9L533.2 110.2L533.4 109.1L533.6 110.5L533.8 109.4L534.0 109.9L534.1 110.0L534.3 110.2L534.5 108.8L534.7 110.7L534.9 110.1L535.1 109.6L535.2 109.3L535.4 108.9L535.6 109.1L535.8 110.1L536.0 109.6L536.2 109.2L536.3 109.5L536.5 110.7L536.7 109.7L536.9 109.5L537.1 110.6L537.3 110.1L537.4 109.9L537.6 109.5L537.8 109.0L538.0 109.2L538.2 109.6L538.4 109.7L538.5 110.0L538.7 110.2L538.9 110.0L539.1 110.0L539.3 109.3L539.5 108.7L539.7 109.6L539.8 109.3L540.0 109.5L540.2 109.7L540.4 109.2L540.6 109.2L540.8 109.8L540.9 109.9L541.1 109.5L541.3 110.1L541.5 109.7L541.7 109.3L541.9 109.9L542.0 110.9L542.2 109.5L542.4 110.5L542.6 110.6L542.8 110.7L543.0 109.4L543.1 111.0L543.3 109.9L543.5 109.7L543.7 109.7L543.9 110.2L544.1 109.9L544.2 109.8L544.4 110.6L544.6 109.5L544.8 109.3L545.0 110.3L545.2 110.3L545.3 110.5L545.5 109.3L545.7 110.5L545.9 110.1L546.1 110.8L546.3 109.2L546.4 110.0L546.6 109.7L546.8 109.0L547.0 109.5L547.2 110.5L547.4 109.6L547.5 109.5L547.7 110.4L547.9 110.4L548.1 110.4L548.3 109.4L548.5 109.8L548.6 110.4L548.8 109.5L549.0 109.5L549.2 110.3L549.4 110.7L549.6 109.2L549.7 108.5L549.9 109.1L550.1 109.3L550.3 109.8L550.5 110.2L550.7 109.8L550.9 109.5L551.0 110.0L551.2 109.4L551.4 109.9L551.6 109.5L551.8 111.4L552.0 110.3L552.1 109.4L552.3 109.3L552.5 109.7L552.7 109.0L552.9 109.5L553.1 109.5L553.2 110.4L553.4 109.7L553.6 109.5L553.8 109.2L554.0 109.3L554.2 109.9L554.3 109.8L554.5 110.5L554.7 109.6L554.9 110.5L555.1 110.0L555.3 109.9L555.4 108.8L555.6 109.2L555.8 110.3L556.0 110.7L556.2 110.0L556.4 110.3L556.5 109.7L556.7 109.7L556.9 109.5L557.1 110.4L557.3 110.1L557.5 109.8L557.6 109.7L557.8 110.2L558.0 110.1L558.2 109.5L558.4 110.9L558.6 110.1L558.7 109.9L558.9 110.7L559.1 110.5L559.3 109.9L559.5 110.2L559.7 109.3L559.8 109.6L560.0 108.7L560.2 110.6L560.4 108.9L560.6 110.3L560.8 109.5L561.0 109.4L561.1 109.8L561.3 110.1L561.5 110.3L561.7 110.9L561.9 110.1L562.1 110.4L562.2 109.6L562.4 110.3L562.6 110.0L562.8 109.7L563.0 109.9L563.2 109.9L563.3 110.0L563.5 110.2L563.7 109.7L563.9 109.5L564.1 110.3L564.3 109.0L564.4 109.6L564.6 110.8L564.8 108.4L565.0 109.6L565.2 110.3L565.4 109.0L565.5 111.4L565.7 108.5L565.9 110.7L566.1 110.8L566.3 110.4L566.5 109.8L566.6 110.1L566.8 109.4L567.0 110.4L567.2 109.3L567.4 109.8L567.6 110.5L567.7 109.3L567.9 109.7L568.1 110.0L568.3 109.2L568.5 110.6L568.7 110.1L568.8 109.1L569.0 109.9L569.2 109.5L569.4 109.6L569.6 110.0L569.8 109.6L569.9 110.5L570.1 109.6L570.3 110.5L570.5 109.9L570.7 110.4L570.9 109.7L571.1 109.7L571.2 109.3L571.4 110.3L571.6 110.5L571.8 111.1L572.0 110.7L572.2 110.1L572.3 109.8L572.5 110.2L572.7 109.9L572.9 110.8L573.1 110.5L573.3 109.5L573.4 109.6L573.6 110.7L573.8 110.1L574.0 109.8L574.2 110.6L574.4 109.8L574.5 109.8L574.7 109.7L574.9 108.9L575.1 110.4L575.3 109.3L575.5 109.7L575.6 109.6L575.8 110.4L576.0 109.9L576.2 110.0L576.4 109.1L576.6 109.9L576.7 109.2L576.9 110.1L577.1 110.2L577.3 110.0L577.5 111.1L577.7 110.3L577.8 110.3L578.0 110.1L578.2 109.9L578.4 110.5L578.6 110.6L578.8 109.3L578.9 110.6L579.1 110.3L579.3 110.5L579.5 110.2L579.7 109.3L579.9 109.3L580.0 111.0L580.2 110.1L580.4 109.2L580.6 110.2L580.8 109.8L581.0 109.0L581.2 108.7L581.3 109.1L581.5 110.1L581.7 110.0L581.9 109.9L582.1 110.2L582.3 110.3L582.4 108.8L582.6 109.8L582.8 109.5L583.0 109.3L583.2 109.7L583.4 109.9L583.5 109.9L583.7 109.2L583.9 109.7L584.1 111.1L584.3 109.4L584.5 109.1L584.6 110.2L584.8 110.3L585.0 110.3L585.2 109.4L585.4 110.6L585.6 109.6L585.7 109.4L585.9 109.7L586.1 109.9L586.3 110.4L586.5 110.4L586.7 110.0L586.8 110.5L587.0 110.1L587.2 110.5L587.4 109.2L587.6 109.1L587.8 110.4L587.9 109.2L588.1 109.8L588.3 110.0L588.5 109.7L588.7 109.8L588.9 110.8L589.0 108.6L589.2 110.5L589.4 111.3L589.6 110.0L589.8 110.0L590.0 110.4L590.1 111.0L590.3 109.4L590.5 110.1L590.7 109.9L590.9 110.3L591.1 110.1L591.3 110.4L591.4 109.8L591.6 110.1L591.8 109.7L592.0 109.7L592.2 109.9L592.4 110.0L592.5 109.4L592.7 110.9L592.9 110.0L593.1 109.3L593.3 110.6L593.5 109.6L593.6 110.3L593.8 110.0L594.0 110.2L594.2 110.1L594.4 109.7L594.6 110.1L594.7 111.2L594.9 108.8L595.1 110.1L595.3 110.3L595.5 109.5L595.7 109.3L595.8 111.2L596.0 109.8L596.2 111.2L596.4 110.3L596.6 110.1L596.8 110.3L596.9 110.4L597.1 110.7L597.3 110.3L597.5 110.1L597.7 110.1L597.9 110.8L598.0 110.5L598.2 109.5L598.4 109.7L598.6 110.2L598.8 109.7L599.0 109.8L599.1 109.5L599.3 109.9L599.5 110.3L599.7 110.6L599.9 110.1L600.1 111.2L600.2 110.0L600.4 111.8L600.6 110.6L600.8 110.3L601.0 109.8L601.2 108.5L601.4 110.0L601.5 110.2L601.7 111.1L601.9 109.3L602.1 111.1L602.3 109.9L602.5 110.5L602.6 108.7L602.8 110.1L603.0 109.9L603.2 110.4L603.4 110.1L603.6 109.4L603.7 110.6L603.9 110.4L604.1 110.4L604.3 110.6L604.5 110.7L604.7 110.1L604.8 109.3L605.0 109.3L605.2 110.8L605.4 110.5L605.6 110.1L605.8 109.8L605.9 110.1L606.1 110.1L606.3 109.9L606.5 109.7L606.7 111.3L606.9 110.2L607.0 109.7L607.2 109.4L607.4 109.7L607.6 110.5L607.8 110.5L608.0 110.0L608.1 110.1L608.3 109.9L608.5 109.5L608.7 110.8L608.9 110.3L609.1 111.4L609.2 109.7L609.4 110.0L609.6 110.6L609.8 110.0L610.0 109.3L610.2 109.6L610.3 110.1L610.5 110.3L610.7 110.0L610.9 110.6L611.1 110.6L611.3 110.3L611.4 110.1L611.6 110.0L611.8 110.4L612.0 110.6L612.2 110.1L612.4 110.3L612.6 109.9L612.7 109.3L612.9 109.5L613.1 110.5L613.3 110.3L613.5 111.0L613.7 110.1L613.8 110.6L614.0 110.8L614.2 110.6L614.4 109.8L614.6 110.0L614.8 110.2L614.9 109.6L615.1 110.4L615.3 110.7L615.5 109.8L615.7 111.2L615.9 109.9L616.0 110.0L616.2 110.0L616.4 109.7L616.6 110.3L616.8 110.1L617.0 111.0L617.1 110.4L617.3 110.4L617.5 110.0L617.7 109.3L617.9 110.1L618.1 109.6L618.2 110.6L618.4 110.1L618.6 111.0L618.8 110.5L619.0 110.6L619.2 110.2L619.3 110.2L619.5 110.5L619.7 110.6L619.9 109.7L620.1 110.4L620.3 111.6L620.4 110.1L620.6 110.0L620.8 109.7L621.0 109.3L621.2 110.8L621.4 110.2L621.5 110.3L621.7 111.1L621.9 111.5L622.1 109.6L622.3 110.7L622.5 110.5L622.7 110.4L622.8 110.4L623.0 110.1L623.2 111.0L623.4 110.5L623.6 110.3L623.8 110.8L623.9 110.6L624.1 110.4L624.3 110.3L624.5 111.1L624.7 110.4L624.9 110.1L625.0 109.7L625.2 110.0L625.4 109.6L625.6 110.2L625.8 110.3L626.0 109.0L626.1 110.2L626.3 110.5L626.5 110.2L626.7 109.6L626.9 110.8L627.1 109.8L627.2 109.5L627.4 109.6L627.6 110.1L627.8 110.7L628.0 110.8L628.2 110.3L628.3 109.5L628.5 109.8L628.7 109.7L628.9 110.1L629.1 109.2L629.3 110.2L629.4 110.5L629.6 110.1L629.8 110.4L630.0 109.6L630.2 109.4L630.4 109.8L630.5 110.8L630.7 110.7L630.9 109.9L631.1 110.8L631.3 110.0L631.5 111.0L631.6 110.4L631.8 109.9L632.0 110.6L632.2 109.7L632.4 109.6L632.6 109.4L632.8 110.3L632.9 110.1L633.1 110.1L633.3 109.9L633.5 111.0L633.7 109.9L633.9 109.8L634.0 110.9L634.2 111.0L634.4 110.4L634.6 109.2L634.8 109.8L635.0 110.5L635.1 110.2L635.3 111.0L635.5 109.4L635.7 110.5L635.9 109.8L636.1 110.9L636.2 110.1L636.4 110.7L636.6 109.8L636.8 109.4L637.0 109.6L637.2 109.8L637.3 109.6L637.5 110.8L637.7 110.9L637.9 110.3L638.1 109.6L638.3 110.1L638.4 109.8L638.6 111.0L638.8 110.4L639.0 110.5L639.2 110.0L639.4 109.1L639.5 109.8L639.7 109.6L639.9 110.4L640.1 110.2L640.3 109.7L640.5 110.0L640.6 111.1L640.8 109.7L641.0 109.7L641.2 110.1L641.4 109.8L641.6 110.0L641.7 110.5L641.9 111.1L642.1 109.2L642.3 110.2" fill="none" stroke="#0000d8" stroke-width="1.45" stroke-linejoin="round"/>
<path d="M385.4 158.4L385.6 158.4L385.8 158.3L386.0 158.2L386.1 159.0L386.3 158.1L386.5 158.3L386.7 158.4L386.9 158.5L387.1 158.3L387.2 159.0L387.4 158.4L387.6 158.5L387.8 158.4L388.0 157.9L388.2 158.0L388.3 157.8L388.5 158.5L388.7 158.0L388.9 157.8L389.1 158.5L389.3 158.7L389.4 157.4L389.6 159.3L389.8 158.4L390.0 158.4L390.2 159.0L390.4 158.5L390.5 158.1L390.7 159.6L390.9 157.8L391.1 158.4L391.3 158.9L391.5 157.8L391.6 158.4L391.8 158.6L392.0 159.7L392.2 157.9L392.4 158.4L392.6 158.8L392.7 158.5L392.9 157.8L393.1 158.6L393.3 158.5L393.5 158.7L393.7 159.0L393.8 159.0L394.0 158.6L394.2 158.6L394.4 157.8L394.6 158.4L394.8 158.5L394.9 158.2L395.1 158.5L395.3 158.0L395.5 159.3L395.7 159.6L395.9 158.2L396.1 158.7L396.2 158.3L396.4 159.1L396.6 158.7L396.8 158.5L397.0 158.3L397.2 158.5L397.3 157.9L397.5 158.8L397.7 158.0L397.9 158.7L398.1 158.5L398.3 159.0L398.4 158.4L398.6 159.0L398.8 157.9L399.0 158.8L399.2 158.3L399.4 158.5L399.5 158.5L399.7 159.0L399.9 157.3L400.1 158.6L400.3 157.6L400.5 159.1L400.6 157.4L400.8 157.9L401.0 157.5L401.2 159.3L401.4 157.7L401.6 158.5L401.7 158.2L401.9 157.5L402.1 158.3L402.3 158.8L402.5 158.3L402.7 159.0L402.8 158.2L403.0 158.5L403.2 158.2L403.4 158.6L403.6 159.5L403.8 158.7L403.9 158.6L404.1 158.1L404.3 158.0L404.5 159.3L404.7 157.8L404.9 158.0L405.0 158.4L405.2 158.2L405.4 159.5L405.6 157.2L405.8 158.7L406.0 158.8L406.2 157.8L406.3 158.1L406.5 158.7L406.7 159.4L406.9 158.0L407.1 157.6L407.3 159.0L407.4 159.3L407.6 158.3L407.8 157.2L408.0 159.3L408.2 158.4L408.4 159.1L408.5 158.4L408.7 158.3L408.9 158.2L409.1 159.3L409.3 159.3L409.5 157.3L409.6 158.0L409.8 159.4L410.0 158.3L410.2 157.7L410.4 158.5L410.6 158.4L410.7 158.4L410.9 158.2L411.1 158.3L411.3 158.2L411.5 158.7L411.7 158.0L411.8 158.3L412.0 158.4L412.2 159.2L412.4 158.7L412.6 158.4L412.8 158.8L412.9 158.7L413.1 159.1L413.3 158.8L413.5 159.5L413.7 159.2L413.9 158.5L414.0 158.3L414.2 159.0L414.4 158.8L414.6 158.4L414.8 157.7L415.0 157.5L415.1 158.7L415.3 158.9L415.5 158.9L415.7 157.8L415.9 159.1L416.1 158.2L416.3 158.7L416.4 158.7L416.6 158.0L416.8 158.2L417.0 157.3L417.2 158.0L417.4 157.5L417.5 158.7L417.7 158.5L417.9 159.0L418.1 158.7L418.3 158.1L418.5 158.7L418.6 158.3L418.8 158.8L419.0 158.7L419.2 157.9L419.4 158.5L419.6 158.5L419.7 158.3L419.9 159.0L420.1 159.4L420.3 158.3L420.5 158.3L420.7 157.3L420.8 158.4L421.0 158.3L421.2 157.3L421.4 158.7L421.6 158.8L421.8 158.1L421.9 158.3L422.1 158.0L422.3 158.9L422.5 157.7L422.7 158.3L422.9 159.6L423.0 158.5L423.2 158.8L423.4 158.4L423.6 157.9L423.8 158.5L424.0 158.7L424.1 157.9L424.3 158.7L424.5 159.2L424.7 159.1L424.9 157.6L425.1 158.0L425.2 157.6L425.4 159.1L425.6 158.8L425.8 158.9L426.0 158.0L426.2 157.9L426.3 158.6L426.5 158.6L426.7 158.0L426.9 158.6L427.1 158.9L427.3 158.6L427.5 157.9L427.6 157.4L427.8 158.4L428.0 158.6L428.2 158.4L428.4 158.3L428.6 158.1L428.7 158.9L428.9 158.5L429.1 158.6L429.3 158.0L429.5 158.2L429.7 158.6L429.8 158.0L430.0 157.8L430.2 158.3L430.4 159.2L430.6 158.6L430.8 159.3L430.9 158.5L431.1 158.4L431.3 157.8L431.5 158.2L431.7 159.3L431.9 158.7L432.0 158.9L432.2 158.9L432.4 158.5L432.6 158.4L432.8 158.6L433.0 158.9L433.1 158.8L433.3 158.8L433.5 158.6L433.7 158.1L433.9 158.4L434.1 158.0L434.2 159.1L434.4 157.4L434.6 158.4L434.8 159.8L435.0 158.3L435.2 157.9L435.3 158.5L435.5 159.2L435.7 158.4L435.9 158.9L436.1 158.6L436.3 158.3L436.4 160.3L436.6 158.6L436.8 158.2L437.0 158.3L437.2 158.8L437.4 158.8L437.6 159.0L437.7 158.6L437.9 157.8L438.1 158.8L438.3 158.4L438.5 158.4L438.7 157.7L438.8 158.2L439.0 158.1L439.2 158.5L439.4 157.7L439.6 158.6L439.8 158.6L439.9 157.9L440.1 158.2L440.3 158.1L440.5 159.0L440.7 157.2L440.9 158.4L441.0 157.6L441.2 158.3L441.4 159.0L441.6 158.2L441.8 158.6L442.0 158.1L442.1 159.6L442.3 159.1L442.5 159.2L442.7 157.8L442.9 158.0L443.1 159.2L443.2 158.5L443.4 158.4L443.6 158.7L443.8 157.9L444.0 159.0L444.2 158.6L444.3 158.8L444.5 158.2L444.7 158.8L444.9 158.2L445.1 159.1L445.3 159.2L445.4 159.1L445.6 158.8L445.8 158.9L446.0 157.1L446.2 159.0L446.4 158.4L446.5 158.6L446.7 158.4L446.9 157.8L447.1 158.3L447.3 158.9L447.5 159.3L447.7 158.2L447.8 158.1L448.0 159.4L448.2 158.1L448.4 159.7L448.6 158.6L448.8 158.1L448.9 159.1L449.1 159.5L449.3 157.8L449.5 159.4L449.7 158.4L449.9 159.4L450.0 158.4L450.2 157.7L450.4 158.9L450.6 159.1L450.8 159.7L451.0 159.5L451.1 159.0L451.3 158.4L451.5 158.3L451.7 158.4L451.9 158.1L452.1 158.4L452.2 157.2L452.4 158.7L452.6 158.6L452.8 160.0L453.0 159.0L453.2 158.3L453.3 158.9L453.5 157.9L453.7 158.3L453.9 157.6L454.1 159.4L454.3 158.9L454.4 157.9L454.6 158.6L454.8 159.1L455.0 158.9L455.2 158.8L455.4 158.1L455.5 158.2L455.7 158.6L455.9 159.1L456.1 158.1L456.3 158.0L456.5 159.2L456.6 158.1L456.8 159.2L457.0 158.7L457.2 159.1L457.4 159.6L457.6 159.0L457.8 159.0L457.9 158.1L458.1 158.2L458.3 159.0L458.5 159.4L458.7 159.4L458.9 159.9L459.0 158.8L459.2 158.7L459.4 159.1L459.6 158.5L459.8 158.5L460.0 157.9L460.1 159.0L460.3 157.9L460.5 158.7L460.7 157.6L460.9 159.0L461.1 157.8L461.2 158.8L461.4 157.4L461.6 158.1L461.8 158.9L462.0 157.8L462.2 158.3L462.3 157.9L462.5 156.8L462.7 158.1L462.9 158.0L463.1 156.9L463.3 157.6L463.4 156.5L463.6 156.0L463.8 156.1L464.0 155.3L464.2 156.4L464.4 153.8L464.5 154.6L464.7 154.2L464.9 152.0L465.1 151.5L465.3 152.2L465.5 151.0L465.6 150.8L465.8 150.6L466.0 149.1L466.2 148.1L466.4 146.6L466.6 147.6L466.7 146.3L466.9 146.4L467.1 145.7L467.3 144.2L467.5 145.3L467.7 144.3L467.9 143.5L468.0 141.6L468.2 141.3L468.4 140.3L468.6 139.5L468.8 138.2L469.0 138.1L469.1 137.0L469.3 136.2L469.5 134.7L469.7 134.8L469.9 133.3L470.1 130.7L470.2 131.0L470.4 130.4L470.6 130.1L470.8 128.5L471.0 127.6L471.2 126.4L471.3 126.4L471.5 125.0L471.7 124.2L471.9 123.5L472.1 123.7L472.3 122.6L472.4 121.4L472.6 122.1L472.8 120.9L473.0 120.9L473.2 120.4L473.4 120.4L473.5 119.8L473.7 118.6L473.9 118.4L474.1 117.4L474.3 118.7L474.5 117.7L474.6 117.8L474.8 116.5L475.0 115.3L475.2 117.0L475.4 115.9L475.6 115.8L475.7 115.6L475.9 115.7L476.1 115.5L476.3 114.2L476.5 115.5L476.7 114.5L476.8 114.3L477.0 115.5L477.2 115.0L477.4 114.4L477.6 113.8L477.8 115.1L478.0 115.5L478.1 115.4L478.3 115.0L478.5 115.5L478.7 115.5L478.9 116.5L479.1 117.1L479.2 117.6L479.4 116.9L479.6 117.9L479.8 118.5L480.0 118.3L480.2 119.0L480.3 120.7L480.5 120.0L480.7 120.8L480.9 120.6L481.1 121.2L481.3 120.7L481.4 122.0L481.6 123.1L481.8 123.9L482.0 123.8L482.2 123.9L482.4 124.0L482.5 124.0L482.7 124.7L482.9 125.6L483.1 125.4L483.3 126.9L483.5 126.5L483.6 126.7L483.8 127.7L484.0 128.0L484.2 128.8L484.4 130.8L484.6 130.7L484.7 131.5L484.9 132.7L485.1 133.4L485.3 133.0L485.5 134.6L485.7 134.7L485.8 135.1L486.0 136.0L486.2 135.6L486.4 136.5L486.6 137.5L486.8 138.5L486.9 138.5L487.1 139.3L487.3 140.5L487.5 141.3L487.7 141.6L487.9 142.4L488.0 141.9L488.2 142.4L488.4 143.1L488.6 143.1L488.8 143.3L489.0 144.8L489.2 144.1L489.3 144.0L489.5 145.2L489.7 146.2L489.9 145.6L490.1 146.5L490.3 145.9L490.4 146.2L490.6 146.5L490.8 147.1L491.0 148.4L491.2 147.0L491.4 148.8L491.5 147.6L491.7 148.2L491.9 149.0L492.1 149.1L492.3 149.1L492.5 148.3L492.6 149.6L492.8 149.0L493.0 151.2L493.2 149.9L493.4 150.3L493.6 149.8L493.7 150.4L493.9 150.2L494.1 151.6L494.3 151.1L494.5 151.7L494.7 151.2L494.8 151.4L495.0 152.5L495.2 151.4L495.4 151.1L495.6 152.4L495.8 151.7L495.9 152.2L496.1 153.1L496.3 152.3L496.5 153.4L496.7 152.6L496.9 154.0L497.0 154.0L497.2 153.1L497.4 153.4L497.6 153.2L497.8 153.9L498.0 154.6L498.1 153.3L498.3 154.7L498.5 153.6L498.7 154.0L498.9 153.6L499.1 155.9L499.3 154.9L499.4 155.1L499.6 154.7L499.8 155.8L500.0 154.2L500.2 155.5L500.4 156.8L500.5 155.5L500.7 155.8L500.9 156.3L501.1 155.5L501.3 156.0L501.5 156.6L501.6 156.2L501.8 156.4L502.0 156.0L502.2 156.5L502.4 156.4L502.6 157.2L502.7 156.9L502.9 156.4L503.1 155.2L503.3 157.0L503.5 157.1L503.7 156.3L503.8 155.7L504.0 156.2L504.2 157.4L504.4 156.4L504.6 156.8L504.8 157.2L504.9 157.8L505.1 157.2L505.3 157.2L505.5 157.0L505.7 158.3L505.9 158.0L506.0 157.4L506.2 156.8L506.4 157.2L506.6 158.0L506.8 157.3L507.0 158.3L507.1 158.0L507.3 158.0L507.5 158.2L507.7 158.2L507.9 157.4L508.1 157.7L508.2 159.2L508.4 157.3L508.6 157.7L508.8 158.6L509.0 157.9L509.2 157.6L509.4 157.3L509.5 158.4L509.7 158.7L509.9 158.9L510.1 158.2L510.3 158.7L510.5 157.6L510.6 158.3L510.8 157.9L511.0 158.3L511.2 158.7L511.4 158.9L511.6 157.8L511.7 159.0L511.9 158.1L512.1 157.8L512.3 158.3L512.5 157.6L512.7 158.4L512.8 158.6L513.0 158.4L513.2 158.8L513.4 158.3L513.6 158.5L513.8 157.8L513.9 158.6L514.1 158.1L514.3 158.4L514.5 158.6L514.7 158.8L514.9 157.8L515.0 157.8L515.2 158.5L515.4 159.0L515.6 158.9L515.8 159.2L516.0 159.4L516.1 159.0L516.3 158.7L516.5 158.2L516.7 158.2L516.9 158.5L517.1 158.9L517.2 158.9L517.4 158.8L517.6 158.7L517.8 159.1L518.0 158.9L518.2 158.9L518.3 159.0L518.5 158.5L518.7 158.2L518.9 159.1L519.1 159.0L519.3 158.7L519.5 158.6L519.6 160.1L519.8 158.4L520.0 158.7L520.2 159.0L520.4 158.2L520.6 158.9L520.7 159.8L520.9 159.4L521.1 159.2L521.3 159.2L521.5 158.9L521.7 159.4L521.8 158.8L522.0 158.7L522.2 158.9L522.4 159.4L522.6 159.1L522.8 159.3L522.9 157.8L523.1 159.6L523.3 160.2L523.5 159.7L523.7 158.8L523.9 158.5L524.0 159.1L524.2 158.4L524.4 159.4L524.6 158.7L524.8 159.5L525.0 159.7L525.1 157.9L525.3 159.1L525.5 158.6L525.7 158.2L525.9 158.7L526.1 158.9L526.2 159.6L526.4 158.2L526.6 159.6L526.8 160.1L527.0 159.3L527.2 159.3L527.3 159.0L527.5 158.4L527.7 159.3L527.9 159.3L528.1 159.5L528.3 160.5L528.4 159.5L528.6 159.3L528.8 159.9L529.0 158.3L529.2 158.4L529.4 158.9L529.6 158.7L529.7 159.5L529.9 158.9L530.1 160.1L530.3 159.9L530.5 159.5L530.7 158.9L530.8 159.4L531.0 159.5L531.2 158.5L531.4 159.3L531.6 159.5L531.8 159.2L531.9 160.0L532.1 159.8L532.3 158.7L532.5 159.2L532.7 158.6L532.9 159.4L533.0 158.6L533.2 159.6L533.4 159.3L533.6 159.6L533.8 159.0L534.0 158.3L534.1 160.1L534.3 159.0L534.5 159.9L534.7 159.3L534.9 159.5L535.1 160.1L535.2 159.3L535.4 159.9L535.6 158.3L535.8 159.6L536.0 159.0L536.2 159.0L536.3 159.1L536.5 159.3L536.7 160.0L536.9 158.1L537.1 159.1L537.3 158.7L537.4 159.8L537.6 158.9L537.8 159.4L538.0 158.9L538.2 159.5L538.4 159.7L538.5 158.9L538.7 159.1L538.9 158.3L539.1 159.3L539.3 159.6L539.5 158.8L539.7 159.7L539.8 158.0L540.0 158.1L540.2 158.4L540.4 158.9L540.6 159.1L540.8 159.1L540.9 159.1L541.1 159.5L541.3 158.9L541.5 158.4L541.7 158.4L541.9 160.3L542.0 157.8L542.2 159.0L542.4 159.9L542.6 159.4L542.8 158.7L543.0 159.1L543.1 159.6L543.3 159.8L543.5 158.6L543.7 159.5L543.9 159.3L544.1 159.7L544.2 159.9L544.4 158.9L544.6 158.3L544.8 159.3L545.0 160.1L545.2 159.5L545.3 159.3L545.5 160.4L545.7 158.6L545.9 159.6L546.1 158.8L546.3 159.2L546.4 159.2L546.6 160.0L546.8 158.6L547.0 158.8L547.2 158.3L547.4 159.4L547.5 158.9L547.7 159.4L547.9 158.5L548.1 158.9L548.3 159.7L548.5 159.0L548.6 159.5L548.8 159.4L549.0 158.9L549.2 158.3L549.4 159.7L549.6 159.2L549.7 159.7L549.9 158.0L550.1 158.2L550.3 158.0L550.5 158.7L550.7 159.7L550.9 159.4L551.0 159.1L551.2 159.2L551.4 159.6L551.6 159.0L551.8 159.4L552.0 159.2L552.1 157.9L552.3 158.9L552.5 159.9L552.7 158.9L552.9 159.1L553.1 158.8L553.2 158.9L553.4 159.8L553.6 159.0L553.8 158.6L554.0 157.4L554.2 158.8L554.3 158.1L554.5 158.1L554.7 159.6L554.9 159.5L555.1 158.1L555.3 159.6L555.4 159.4L555.6 158.7L555.8 159.5L556.0 158.3L556.2 158.5L556.4 158.4L556.5 158.5L556.7 159.6L556.9 158.4L557.1 158.5L557.3 158.6L557.5 159.3L557.6 159.0L557.8 159.6L558.0 158.8L558.2 158.4L558.4 158.9L558.6 159.2L558.7 158.6L558.9 159.3L559.1 160.1L559.3 158.8L559.5 159.2L559.7 159.9L559.8 158.8L560.0 158.7L560.2 158.5L560.4 159.4L560.6 159.4L560.8 159.1L561.0 159.2L561.1 159.8L561.3 159.6L561.5 158.4L561.7 159.1L561.9 159.2L562.1 159.5L562.2 159.0L562.4 158.8L562.6 158.9L562.8 158.2L563.0 159.1L563.2 158.8L563.3 159.4L563.5 158.6L563.7 158.9L563.9 158.6L564.1 158.6L564.3 159.5L564.4 158.9L564.6 159.4L564.8 158.5L565.0 159.2L565.2 158.2L565.4 158.9L565.5 158.9L565.7 159.5L565.9 159.2L566.1 159.0L566.3 159.6L566.5 159.2L566.6 159.4L566.8 159.6L567.0 159.1L567.2 159.0L567.4 159.3L567.6 158.9L567.7 159.4L567.9 159.8L568.1 159.6L568.3 158.9L568.5 158.4L568.7 159.1L568.8 159.1L569.0 159.8L569.2 158.9L569.4 159.0L569.6 159.5L569.8 158.9L569.9 159.1L570.1 160.1L570.3 160.0L570.5 159.5L570.7 159.3L570.9 158.6L571.1 159.5L571.2 159.2L571.4 159.3L571.6 158.9L571.8 159.1L572.0 159.0L572.2 159.3L572.3 159.9L572.5 159.3L572.7 158.2L572.9 158.6L573.1 158.3L573.3 158.7L573.4 159.5L573.6 159.4L573.8 158.8L574.0 159.3L574.2 158.7L574.4 158.4L574.5 158.4L574.7 158.7L574.9 159.9L575.1 158.4L575.3 159.8L575.5 159.9L575.6 159.1L575.8 159.1L576.0 158.8L576.2 159.1L576.4 159.5L576.6 159.2L576.7 159.7L576.9 159.8L577.1 159.3L577.3 159.3L577.5 159.1L577.7 159.3L577.8 158.5L578.0 159.4L578.2 159.3L578.4 158.7L578.6 160.3L578.8 158.6L578.9 158.7L579.1 159.3L579.3 158.1L579.5 158.7L579.7 158.3L579.9 158.6L580.0 159.1L580.2 159.3L580.4 159.8L580.6 159.6L580.8 159.8L581.0 159.5L581.2 158.9L581.3 159.8L581.5 158.9L581.7 158.8L581.9 160.0L582.1 159.6L582.3 159.3L582.4 159.6L582.6 159.6L582.8 158.4L583.0 159.1L583.2 158.5L583.4 159.2L583.5 158.8L583.7 159.9L583.9 159.4L584.1 158.7L584.3 159.2L584.5 158.5L584.6 159.2L584.8 159.5L585.0 159.3L585.2 158.1L585.4 159.0L585.6 159.4L585.7 159.3L585.9 159.8L586.1 158.5L586.3 159.5L586.5 158.8L586.7 159.3L586.8 159.4L587.0 159.5L587.2 158.9L587.4 159.3L587.6 158.5L587.8 158.4L587.9 159.5L588.1 159.1L588.3 158.3L588.5 158.7L588.7 159.2L588.9 160.0L589.0 159.7L589.2 159.6L589.4 158.2L589.6 159.1L589.8 159.4L590.0 159.4L590.1 159.4L590.3 159.0L590.5 160.1L590.7 160.0L590.9 159.1L591.1 158.6L591.3 160.3L591.4 158.9L591.6 159.8L591.8 160.2L592.0 158.7L592.2 159.3L592.4 159.0L592.5 159.5L592.7 159.4L592.9 160.2L593.1 159.5L593.3 159.2L593.5 159.8L593.6 159.0L593.8 159.0L594.0 160.4L594.2 158.7L594.4 158.9L594.6 159.2L594.7 158.6L594.9 158.0L595.1 159.8L595.3 158.8L595.5 158.9L595.7 159.0L595.8 158.6L596.0 158.6L596.2 159.3L596.4 160.5L596.6 159.6L596.8 159.6L596.9 158.4L597.1 159.2L597.3 158.5L597.5 159.6L597.7 159.1L597.9 159.2L598.0 159.1L598.2 158.9L598.4 158.4L598.6 159.5L598.8 158.4L599.0 158.5L599.1 159.0L599.3 158.8L599.5 159.3L599.7 159.7L599.9 159.3L600.1 159.3L600.2 159.2L600.4 159.7L600.6 158.2L600.8 159.4L601.0 158.7L601.2 158.5L601.4 159.2L601.5 159.0L601.7 159.5L601.9 159.8L602.1 157.9L602.3 159.2L602.5 160.3L602.6 159.7L602.8 160.0L603.0 159.3L603.2 158.4L603.4 158.6L603.6 159.6L603.7 159.7L603.9 158.8L604.1 159.1L604.3 159.3L604.5 158.2L604.7 159.0L604.8 160.1L605.0 160.4L605.2 159.1L605.4 160.2L605.6 158.9L605.8 158.8L605.9 158.0L606.1 159.7L606.3 159.0L606.5 160.5L606.7 159.4L606.9 159.3L607.0 158.2L607.2 160.0L607.4 159.0L607.6 159.1L607.8 158.0L608.0 159.7L608.1 159.8L608.3 158.9L608.5 159.3L608.7 159.4L608.9 159.7L609.1 159.3L609.2 160.2L609.4 159.1L609.6 158.9L609.8 159.0L610.0 157.8L610.2 158.8L610.3 159.8L610.5 159.4L610.7 158.8L610.9 159.4L611.1 158.1L611.3 159.1L611.4 159.5L611.6 159.6L611.8 158.8L612.0 159.7L612.2 160.2L612.4 159.0L612.6 159.6L612.7 158.4L612.9 158.1L613.1 159.6L613.3 159.2L613.5 159.3L613.7 158.9L613.8 159.1L614.0 159.7L614.2 160.2L614.4 159.1L614.6 158.3L614.8 159.9L614.9 159.6L615.1 159.6L615.3 159.3L615.5 160.5L615.7 159.3L615.9 159.5L616.0 158.2L616.2 158.9L616.4 158.8L616.6 159.2L616.8 159.4L617.0 158.8L617.1 160.2L617.3 158.6L617.5 159.0L617.7 159.4L617.9 158.5L618.1 159.5L618.2 159.6L618.4 159.1L618.6 160.3L618.8 159.3L619.0 159.4L619.2 158.7L619.3 158.3L619.5 158.9L619.7 159.1L619.9 159.0L620.1 159.7L620.3 157.9L620.4 158.6L620.6 158.2L620.8 160.0L621.0 158.9L621.2 158.9L621.4 158.6L621.5 159.7L621.7 159.0L621.9 159.4L622.1 158.1L622.3 159.9L622.5 159.5L622.7 159.5L622.8 159.9L623.0 159.1L623.2 159.1L623.4 159.6L623.6 159.5L623.8 159.1L623.9 159.3L624.1 159.0L624.3 159.6L624.5 159.8L624.7 159.2L624.9 160.3L625.0 158.4L625.2 159.1L625.4 160.2L625.6 159.0L625.8 158.4L626.0 160.0L626.1 159.5L626.3 158.6L626.5 159.7L626.7 158.7L626.9 158.5L627.1 159.2L627.2 159.0L627.4 158.6L627.6 159.0L627.8 158.7L628.0 159.3L628.2 159.2L628.3 159.7L628.5 159.0L628.7 158.5L628.9 158.5L629.1 159.1L629.3 160.1L629.4 159.7L629.6 158.9L629.8 159.8L630.0 158.6L630.2 159.8L630.4 159.0L630.5 159.7L630.7 159.6L630.9 159.1L631.1 159.4L631.3 158.7L631.5 159.2L631.6 159.9L631.8 161.5L632.0 159.6L632.2 159.3L632.4 158.7L632.6 159.8L632.8 158.3L632.9 158.8L633.1 159.5L633.3 158.6L633.5 160.1L633.7 159.9L633.9 158.9L634.0 159.0L634.2 158.5L634.4 158.5L634.6 159.5L634.8 159.6L635.0 159.5L635.1 159.4L635.3 159.0L635.5 159.5L635.7 158.4L635.9 159.3L636.1 160.1L636.2 160.0L636.4 159.0L636.6 159.1L636.8 160.0L637.0 160.3L637.2 158.4L637.3 159.0L637.5 159.4L637.7 159.9L637.9 158.8L638.1 159.6L638.3 159.1L638.4 160.6L638.6 159.5L638.8 159.2L639.0 159.1L639.2 159.9L639.4 159.6L639.5 158.7L639.7 159.4L639.9 158.5L640.1 158.9L640.3 158.6L640.5 158.5L640.6 158.9L640.8 158.7L641.0 159.6L641.2 159.7L641.4 159.1L641.6 158.7L641.7 159.7L641.9 158.2L642.1 158.2L642.3 159.7" fill="none" stroke="#e01e1e" stroke-width="1.45" stroke-linejoin="round"/>
<path d="M385.4 201.8L385.7 202.5L386.0 199.7L386.3 197.2L386.5 199.0L386.8 201.6L387.1 198.3L387.4 198.5L387.7 196.8L388.0 197.4L388.3 202.2L388.5 201.3L388.8 197.4L389.1 197.6L389.4 198.8L389.7 201.5L390.0 197.4L390.3 199.8L390.5 195.0L390.8 197.2L391.1 201.2L391.4 202.4L391.7 197.4L392.0 198.3L392.3 202.1L392.5 199.3L392.8 198.9L393.1 201.4L393.4 200.7L393.7 202.9L394.0 202.1L394.3 198.8L394.5 199.9L394.8 200.0L395.1 196.9L395.4 197.8L395.7 202.5L396.0 196.4L396.3 202.6L396.5 200.9L396.8 199.9L397.1 201.5L397.4 201.3L397.7 203.1L398.0 199.2L398.3 199.6L398.5 199.6L398.8 204.6L399.1 202.5L399.4 198.0L399.7 199.4L400.0 198.5L400.3 200.2L400.5 200.7L400.8 204.6L401.1 195.8L401.4 202.7L401.7 201.3L402.0 198.5L402.3 199.8L402.5 199.0L402.8 200.3L403.1 202.6L403.4 196.5L403.7 203.4L404.0 199.3L404.3 203.8L404.5 201.2L404.8 203.2L405.1 201.6L405.4 202.8L405.7 200.3L406.0 198.2L406.3 201.8L406.5 201.9L406.8 204.6L407.1 195.4L407.4 199.7L407.7 202.8L408.0 197.2L408.3 199.7L408.5 204.6L408.8 203.6L409.1 198.1L409.4 203.7L409.7 203.1L410.0 202.1L410.3 201.1L410.5 200.8L410.8 198.1L411.1 199.0L411.4 202.0L411.7 200.6L412.0 204.6L412.3 199.4L412.5 194.5L412.8 199.4L413.1 200.9L413.4 201.1L413.7 200.4L414.0 198.3L414.3 203.8L414.5 198.6L414.8 201.9L415.1 199.5L415.4 197.4L415.7 203.6L416.0 194.2L416.3 198.2L416.5 201.3L416.8 199.4L417.1 202.0L417.4 200.0L417.7 199.2L418.0 204.6L418.3 199.7L418.5 199.9L418.8 197.6L419.1 198.4L419.4 201.8L419.7 201.6L420.0 200.3L420.3 198.6L420.5 201.9L420.8 196.2L421.1 199.4L421.4 199.6L421.7 198.2L422.0 200.6L422.3 198.7L422.5 198.3L422.8 204.6L423.1 202.0L423.4 203.1L423.7 200.4L424.0 202.6L424.3 202.1L424.5 203.2L424.8 204.6L425.1 199.7L425.4 200.9L425.7 200.1L426.0 191.8L426.3 196.9L426.5 200.3L426.8 201.8L427.1 198.9L427.4 203.0L427.7 203.4L428.0 199.3L428.3 203.7L428.6 204.5L428.8 201.4L429.1 197.9L429.4 203.8L429.7 199.9L430.0 199.4L430.3 200.6L430.6 199.0L430.8 202.9L431.1 202.2L431.4 203.2L431.7 201.7L432.0 198.4L432.3 199.9L432.6 202.4L432.8 199.3L433.1 204.6L433.4 199.7L433.7 198.9L434.0 203.1L434.3 202.1L434.6 200.2L434.8 199.7L435.1 201.3L435.4 202.3L435.7 202.1L436.0 199.6L436.3 201.3L436.6 202.3L436.8 202.1L437.1 192.9L437.4 198.2L437.7 198.4L438.0 199.7L438.3 200.7L438.6 202.5L438.8 201.8L439.1 200.0L439.4 200.4L439.7 204.5L440.0 198.8L440.3 201.0L440.6 204.0L440.8 201.1L441.1 195.4L441.4 201.2L441.7 199.3L442.0 200.0L442.3 202.8L442.6 201.4L442.8 199.6L443.1 202.4L443.4 201.3L443.7 200.5L444.0 200.9L444.3 200.8L444.6 199.4L444.8 199.1L445.1 200.2L445.4 197.9L445.7 197.1L446.0 203.3L446.3 199.6L446.6 200.1L446.8 199.8L447.1 200.2L447.4 200.2L447.7 200.3L448.0 198.2L448.3 202.3L448.6 198.4L448.8 202.6L449.1 195.5L449.4 197.5L449.7 202.5L450.0 199.7L450.3 198.5L450.6 201.0L450.8 197.5L451.1 200.2L451.4 194.7L451.7 198.9L452.0 198.5L452.3 201.3L452.6 202.1L452.8 198.0L453.1 203.9L453.4 198.6L453.7 195.1L454.0 194.3L454.3 203.7L454.6 199.8L454.8 198.4L455.1 198.2L455.4 197.3L455.7 203.2L456.0 199.7L456.3 204.2L456.6 199.4L456.8 194.3L457.1 201.9L457.4 199.0L457.7 199.3L458.0 203.7L458.3 199.3L458.6 202.7L458.8 199.9L459.1 198.1L459.4 201.1L459.7 198.4L460.0 202.8L460.3 202.1L460.6 200.0L460.8 201.3L461.1 201.2L461.4 199.2L461.7 202.0L462.0 199.3L462.3 201.3L462.6 197.5L462.8 200.0L463.1 200.7L463.4 197.8L463.7 198.7L464.0 198.4L464.3 201.4L464.6 197.9L464.8 200.7L465.1 203.3L465.4 200.5L465.7 195.7L466.0 199.9L466.3 202.1L466.6 198.9L466.8 202.2L467.1 201.0L467.4 200.5L467.7 198.8L468.0 198.2L468.3 198.8L468.6 199.6L468.8 200.7L469.1 200.4L469.4 198.7L469.7 199.5L470.0 200.3L470.3 195.4L470.6 197.5L470.8 197.4L471.1 198.8L471.4 198.6L471.7 198.6L472.0 197.1L472.3 200.7L472.6 199.7L472.8 195.0L473.1 198.8L473.4 196.0L473.7 202.6L474.0 197.3L474.3 197.4L474.6 198.4L474.8 197.6L475.1 197.8L475.4 201.6L475.7 198.3L476.0 199.6L476.3 200.2L476.6 195.1L476.8 201.3L477.1 198.8L477.4 199.4L477.7 194.9L478.0 198.8L478.3 197.7L478.6 195.3L478.8 201.9L479.1 197.4L479.4 195.1L479.7 195.8L480.0 197.2L480.3 197.4L480.6 195.8L480.8 197.0L481.1 197.2L481.4 190.4L481.7 191.9L482.0 190.5L482.3 192.6L482.6 195.5L482.8 193.3L483.1 188.8L483.4 190.2L483.7 192.9L484.0 188.8L484.3 189.4L484.6 189.9L484.8 184.4L485.1 190.2L485.4 188.7L485.7 188.8L486.0 184.7L486.3 184.7L486.6 184.7L486.8 186.3L487.1 185.4L487.4 185.1L487.7 188.7L488.0 187.1L488.3 181.7L488.6 181.5L488.8 186.7L489.1 181.4L489.4 185.0L489.7 185.0L490.0 179.4L490.3 179.6L490.6 180.0L490.8 177.3L491.1 176.6L491.4 177.5L491.7 180.1L492.0 176.5L492.3 176.7L492.6 175.7L492.8 173.1L493.1 179.6L493.4 170.0L493.7 173.7L494.0 176.2L494.3 171.2L494.6 175.6L494.8 176.8L495.1 171.4L495.4 173.8L495.7 170.4L496.0 174.1L496.3 172.9L496.6 173.1L496.8 175.6L497.1 173.3L497.4 175.2L497.7 173.3L498.0 168.8L498.3 172.1L498.6 172.4L498.8 167.6L499.1 174.1L499.4 170.9L499.7 171.4L500.0 168.2L500.3 170.6L500.6 171.2L500.8 169.8L501.1 170.9L501.4 165.7L501.7 174.1L502.0 168.3L502.3 165.8L502.6 168.8L502.8 169.2L503.1 172.6L503.4 169.2L503.7 172.1L504.0 169.2L504.3 177.1L504.6 173.3L504.8 177.0L505.1 170.1L505.4 174.4L505.7 170.7L506.0 174.6L506.3 175.1L506.6 169.9L506.8 171.3L507.1 171.4L507.4 170.9L507.7 173.1L508.0 172.9L508.3 172.2L508.6 176.3L508.8 177.8L509.1 173.7L509.4 176.0L509.7 177.7L510.0 177.6L510.3 176.9L510.6 180.9L510.8 181.4L511.1 181.4L511.4 179.7L511.7 185.4L512.0 185.2L512.3 180.5L512.6 181.7L512.8 185.3L513.1 181.1L513.4 184.4L513.7 184.1L514.0 182.8L514.3 184.4L514.6 181.6L514.9 184.6L515.1 181.6L515.4 192.4L515.7 191.0L516.0 190.7L516.3 189.0L516.6 191.1L516.9 192.2L517.1 192.0L517.4 192.2L517.7 188.3L518.0 192.0L518.3 190.1L518.6 189.0L518.9 189.5L519.1 193.7L519.4 195.5L519.7 189.9L520.0 197.7L520.3 197.3L520.6 193.2L520.9 193.3L521.1 194.5L521.4 197.3L521.7 194.3L522.0 192.8L522.3 196.6L522.6 191.1L522.9 196.7L523.1 199.3L523.4 197.4L523.7 198.7L524.0 198.1L524.3 198.8L524.6 197.5L524.9 195.3L525.1 196.8L525.4 197.3L525.7 200.6L526.0 201.6L526.3 198.8L526.6 196.1L526.9 196.3L527.1 197.7L527.4 201.6L527.7 199.2L528.0 198.4L528.3 196.8L528.6 200.8L528.9 199.5L529.1 198.8L529.4 199.3L529.7 203.2L530.0 198.9L530.3 203.4L530.6 202.3L530.9 199.5L531.1 201.5L531.4 199.1L531.7 197.4L532.0 198.7L532.3 197.2L532.6 200.6L532.9 199.4L533.1 200.8L533.4 201.4L533.7 191.9L534.0 200.2L534.3 195.1L534.6 199.9L534.9 197.4L535.1 199.7L535.4 202.8L535.7 195.4L536.0 200.0L536.3 199.3L536.6 195.0L536.9 201.1L537.1 199.6L537.4 198.3L537.7 197.8L538.0 204.6L538.3 198.6L538.6 195.3L538.9 197.4L539.1 198.7L539.4 198.7L539.7 199.4L540.0 197.1L540.3 200.9L540.6 198.5L540.9 196.4L541.1 197.7L541.4 198.8L541.7 201.7L542.0 200.9L542.3 198.9L542.6 199.8L542.9 200.2L543.1 204.6L543.4 198.3L543.7 200.9L544.0 201.5L544.3 197.5L544.6 200.2L544.9 200.2L545.1 198.7L545.4 201.2L545.7 202.3L546.0 202.5L546.3 199.4L546.6 200.3L546.9 204.6L547.1 197.2L547.4 200.4L547.7 202.0L548.0 200.3L548.3 201.5L548.6 200.3L548.9 201.7L549.1 203.0L549.4 199.4L549.7 200.4L550.0 199.8L550.3 199.0L550.6 199.9L550.9 197.3L551.1 201.8L551.4 204.1L551.7 204.1L552.0 203.1L552.3 197.7L552.6 203.7L552.9 198.3L553.1 199.9L553.4 204.5L553.7 197.5L554.0 202.1L554.3 200.8L554.6 199.8L554.9 198.0L555.1 201.2L555.4 199.0L555.7 202.7L556.0 203.1L556.3 196.9L556.6 199.0L556.9 199.4L557.1 197.4L557.4 197.5L557.7 200.4L558.0 199.7L558.3 196.3L558.6 199.0L558.9 201.5L559.1 197.4L559.4 198.1L559.7 204.1L560.0 203.5L560.3 196.4L560.6 197.1L560.9 201.2L561.1 197.4L561.4 199.7L561.7 199.2L562.0 201.6L562.3 194.2L562.6 195.0L562.9 197.4L563.1 202.7L563.4 199.9L563.7 196.2L564.0 201.5L564.3 202.0L564.6 199.7L564.9 199.5L565.1 201.4L565.4 203.2L565.7 200.7L566.0 201.6L566.3 200.2L566.6 199.4L566.9 198.1L567.1 200.9L567.4 199.6L567.7 199.7L568.0 202.5L568.3 201.5L568.6 202.4L568.9 196.5L569.1 201.6L569.4 198.9L569.7 198.4L570.0 198.3L570.3 203.2L570.6 202.3L570.9 198.6L571.1 197.6L571.4 200.3L571.7 199.2L572.0 204.3L572.3 196.8L572.6 195.9L572.9 199.7L573.1 200.3L573.4 200.6L573.7 202.1L574.0 204.6L574.3 199.5L574.6 199.0L574.9 196.1L575.1 200.9L575.4 202.3L575.7 199.7L576.0 203.1L576.3 200.4L576.6 203.9L576.9 201.1L577.1 197.8L577.4 198.8L577.7 196.6L578.0 196.1L578.3 200.9L578.6 202.4L578.9 204.6L579.1 200.2L579.4 199.7L579.7 197.6L580.0 202.7L580.3 201.2L580.6 198.9L580.9 202.0L581.1 201.6L581.4 195.8L581.7 202.1L582.0 200.6L582.3 199.4L582.6 199.3L582.9 204.5L583.1 204.0L583.4 204.6L583.7 197.5L584.0 198.7L584.3 202.5L584.6 197.4L584.9 198.6L585.1 196.0L585.4 204.6L585.7 202.9L586.0 201.4L586.3 200.8L586.6 199.3L586.9 199.3L587.1 201.8L587.4 198.6L587.7 203.2L588.0 199.1L588.3 198.2L588.6 203.4L588.9 200.0L589.1 201.6L589.4 199.3L589.7 194.9L590.0 201.6L590.3 197.1L590.6 202.9L590.9 196.6L591.1 195.8L591.4 201.0L591.7 201.3L592.0 200.6L592.3 197.4L592.6 202.4L592.9 196.8L593.1 199.2L593.4 198.4L593.7 199.4L594.0 202.3L594.3 198.8L594.6 201.7L594.9 202.0L595.1 196.2L595.4 197.5L595.7 199.4L596.0 198.9L596.3 201.0L596.6 195.7L596.9 202.0L597.1 202.1L597.4 199.9L597.7 197.0L598.0 200.3L598.3 199.0L598.6 201.7L598.9 200.1L599.1 202.0L599.4 199.3L599.7 203.8L600.0 194.8L600.3 197.9L600.6 201.5L600.9 196.7L601.2 202.1L601.4 197.4L601.7 200.5L602.0 198.1L602.3 199.2L602.6 200.7L602.9 200.0L603.2 199.4L603.4 204.6L603.7 200.3L604.0 198.0L604.3 202.5L604.6 202.3L604.9 203.2L605.2 204.6L605.4 198.0L605.7 202.8L606.0 203.0L606.3 200.3L606.6 200.9L606.9 193.1L607.2 198.9L607.4 204.6L607.7 196.0L608.0 199.0L608.3 201.0L608.6 201.7L608.9 204.2L609.2 196.1L609.4 200.4L609.7 202.4L610.0 197.1L610.3 200.2L610.6 204.6L610.9 203.5L611.2 201.6L611.4 194.0L611.7 200.0L612.0 201.2L612.3 199.6L612.6 200.1L612.9 204.6L613.2 199.8L613.4 198.0L613.7 200.9L614.0 199.5L614.3 199.6L614.6 200.1L614.9 202.2L615.2 200.9L615.4 197.4L615.7 200.0L616.0 201.4L616.3 199.2L616.6 203.1L616.9 202.2L617.2 197.9L617.4 201.1L617.7 204.6L618.0 204.0L618.3 200.2L618.6 202.5L618.9 198.7L619.2 196.8L619.4 201.6L619.7 200.9L620.0 201.5L620.3 200.2L620.6 201.1L620.9 199.1L621.2 201.4L621.4 202.3L621.7 200.2L622.0 202.3L622.3 196.0L622.6 198.4L622.9 203.8L623.2 204.5L623.4 200.9L623.7 200.1L624.0 197.3L624.3 201.2L624.6 202.2L624.9 196.7L625.2 201.6L625.4 201.5L625.7 201.4L626.0 197.6L626.3 201.6L626.6 196.7L626.9 203.9L627.2 200.6L627.4 197.5L627.7 203.5L628.0 203.1L628.3 198.7L628.6 204.6L628.9 197.9L629.2 201.1L629.4 203.1L629.7 194.9L630.0 202.7L630.3 200.1L630.6 200.3L630.9 197.7L631.2 201.1L631.4 197.6L631.7 198.0L632.0 199.2L632.3 197.4L632.6 204.1L632.9 197.1L633.2 198.5L633.4 199.5L633.7 200.3L634.0 202.2L634.3 202.3L634.6 199.6L634.9 199.4L635.2 200.4L635.4 202.3L635.7 202.0L636.0 199.1L636.3 195.4L636.6 204.6L636.9 202.6L637.2 200.9L637.4 201.1L637.7 199.0L638.0 197.9L638.3 199.5L638.6 199.8L638.9 198.8L639.2 196.8L639.4 199.5L639.7 201.7L640.0 199.1L640.3 200.4L640.6 195.3L640.9 199.8L641.2 200.0L641.4 197.4L641.7 196.1L642.0 201.3L642.3 198.4" fill="none" stroke="#000" stroke-width="1.2" stroke-linejoin="round"/>
<rect x="384.7" y="14.9" width="258.3" height="190.9" fill="none" stroke="#000" stroke-width="1.5"/>
<text x="541.20" y="45.50" font-size="11.85" text-anchor="start" fill="#2a822a" font-weight="normal" stroke="#2a822a" stroke-width="0.1" >18.75 MW/cm<tspan dx="0.3" dy="-4.0" font-size="8.0">2</tspan></text>
<text x="545.00" y="90.50" font-size="11.85" text-anchor="start" fill="#3044b8" font-weight="normal" stroke="#3044b8" stroke-width="0.1" >8.76 MW/cm<tspan dx="0.3" dy="-4.0" font-size="8.0">2</tspan></text>
<text x="545.00" y="134.90" font-size="11.85" text-anchor="start" fill="#e03030" font-weight="normal" stroke="#e03030" stroke-width="0.1" >1.63 MW/cm<tspan dx="0.3" dy="-4.0" font-size="8.0">2</tspan></text>
<text x="546.80" y="180.20" font-size="11.85" text-anchor="start" fill="#202020" font-weight="normal" stroke="#202020" stroke-width="0.1" >0.14 MW/cm<tspan dx="0.3" dy="-4.0" font-size="8.0">2</tspan></text>
<text x="514.60" y="234.20" font-size="13.4" text-anchor="middle" fill="#000" font-weight="bold" >Time (ns)</text>
<text x="361.60" y="106.80" font-size="13.95" text-anchor="middle" fill="#000" font-weight="bold" transform="rotate(-90 361.6 106.8)">Counts (Norm.)</text>
<text x="350.50" y="12.00" font-size="14.6" text-anchor="start" fill="#000" font-weight="bold" >(b)</text>
<line x1="55.00" y1="259.40" x2="55.00" y2="447.30" stroke="#6a6a6a" stroke-width="1.5" stroke-dasharray="5.3 4.62" stroke-dashoffset="8.32"/>
<line x1="95.20" y1="259.40" x2="95.20" y2="447.30" stroke="#555" stroke-width="1.4" stroke-dasharray="1.3 1.5" stroke-dashoffset="1.25"/>
<line x1="44.30" y1="447.30" x2="44.30" y2="444.50" stroke="#000" stroke-width="1.2" />
<line x1="44.30" y1="259.40" x2="44.30" y2="262.20" stroke="#000" stroke-width="1.2" />
<line x1="44.30" y1="353.20" x2="44.30" y2="351.24" stroke="#000" stroke-width="1.2" />
<line x1="73.91" y1="447.30" x2="73.91" y2="445.30" stroke="#000" stroke-width="1.2" />
<line x1="73.91" y1="259.40" x2="73.91" y2="261.40" stroke="#000" stroke-width="1.2" />
<line x1="73.91" y1="353.20" x2="73.91" y2="351.80" stroke="#000" stroke-width="1.2" />
<line x1="103.52" y1="447.30" x2="103.52" y2="444.50" stroke="#000" stroke-width="1.2" />
<line x1="103.52" y1="259.40" x2="103.52" y2="262.20" stroke="#000" stroke-width="1.2" />
<line x1="103.52" y1="353.20" x2="103.52" y2="351.24" stroke="#000" stroke-width="1.2" />
<line x1="133.13" y1="447.30" x2="133.13" y2="445.30" stroke="#000" stroke-width="1.2" />
<line x1="133.13" y1="259.40" x2="133.13" y2="261.40" stroke="#000" stroke-width="1.2" />
<line x1="133.13" y1="353.20" x2="133.13" y2="351.80" stroke="#000" stroke-width="1.2" />
<line x1="162.74" y1="447.30" x2="162.74" y2="444.50" stroke="#000" stroke-width="1.2" />
<line x1="162.74" y1="259.40" x2="162.74" y2="262.20" stroke="#000" stroke-width="1.2" />
<line x1="162.74" y1="353.20" x2="162.74" y2="351.24" stroke="#000" stroke-width="1.2" />
<line x1="192.35" y1="447.30" x2="192.35" y2="445.30" stroke="#000" stroke-width="1.2" />
<line x1="192.35" y1="259.40" x2="192.35" y2="261.40" stroke="#000" stroke-width="1.2" />
<line x1="192.35" y1="353.20" x2="192.35" y2="351.80" stroke="#000" stroke-width="1.2" />
<line x1="221.96" y1="447.30" x2="221.96" y2="444.50" stroke="#000" stroke-width="1.2" />
<line x1="221.96" y1="259.40" x2="221.96" y2="262.20" stroke="#000" stroke-width="1.2" />
<line x1="221.96" y1="353.20" x2="221.96" y2="351.24" stroke="#000" stroke-width="1.2" />
<line x1="251.57" y1="447.30" x2="251.57" y2="445.30" stroke="#000" stroke-width="1.2" />
<line x1="251.57" y1="259.40" x2="251.57" y2="261.40" stroke="#000" stroke-width="1.2" />
<line x1="251.57" y1="353.20" x2="251.57" y2="351.80" stroke="#000" stroke-width="1.2" />
<line x1="281.18" y1="447.30" x2="281.18" y2="444.50" stroke="#000" stroke-width="1.2" />
<line x1="281.18" y1="259.40" x2="281.18" y2="262.20" stroke="#000" stroke-width="1.2" />
<line x1="281.18" y1="353.20" x2="281.18" y2="351.24" stroke="#000" stroke-width="1.2" />
<line x1="35.00" y1="333.40" x2="38.00" y2="333.40" stroke="#000" stroke-width="1.2" />
<line x1="290.90" y1="333.40" x2="287.90" y2="333.40" stroke="#000" stroke-width="1.2" />
<line x1="35.00" y1="317.00" x2="37.00" y2="317.00" stroke="#000" stroke-width="1.2" />
<line x1="290.90" y1="317.00" x2="288.90" y2="317.00" stroke="#000" stroke-width="1.2" />
<line x1="35.00" y1="300.60" x2="38.00" y2="300.60" stroke="#000" stroke-width="1.2" />
<line x1="290.90" y1="300.60" x2="287.90" y2="300.60" stroke="#000" stroke-width="1.2" />
<line x1="35.00" y1="284.20" x2="37.00" y2="284.20" stroke="#000" stroke-width="1.2" />
<line x1="290.90" y1="284.20" x2="288.90" y2="284.20" stroke="#000" stroke-width="1.2" />
<line x1="35.00" y1="267.80" x2="38.00" y2="267.80" stroke="#000" stroke-width="1.2" />
<line x1="290.90" y1="267.80" x2="287.90" y2="267.80" stroke="#000" stroke-width="1.2" />
<line x1="35.00" y1="438.30" x2="37.00" y2="438.30" stroke="#000" stroke-width="1.2" />
<line x1="290.90" y1="438.30" x2="288.90" y2="438.30" stroke="#000" stroke-width="1.2" />
<line x1="35.00" y1="424.20" x2="38.00" y2="424.20" stroke="#000" stroke-width="1.2" />
<line x1="290.90" y1="424.20" x2="287.90" y2="424.20" stroke="#000" stroke-width="1.2" />
<line x1="35.00" y1="410.10" x2="37.00" y2="410.10" stroke="#000" stroke-width="1.2" />
<line x1="290.90" y1="410.10" x2="288.90" y2="410.10" stroke="#000" stroke-width="1.2" />
<line x1="35.00" y1="396.00" x2="38.00" y2="396.00" stroke="#000" stroke-width="1.2" />
<line x1="290.90" y1="396.00" x2="287.90" y2="396.00" stroke="#000" stroke-width="1.2" />
<line x1="35.00" y1="381.90" x2="37.00" y2="381.90" stroke="#000" stroke-width="1.2" />
<line x1="290.90" y1="381.90" x2="288.90" y2="381.90" stroke="#000" stroke-width="1.2" />
<line x1="35.00" y1="367.80" x2="38.00" y2="367.80" stroke="#000" stroke-width="1.2" />
<line x1="290.90" y1="367.80" x2="287.90" y2="367.80" stroke="#000" stroke-width="1.2" />
<text x="41.40" y="462.70" font-size="12" text-anchor="middle" fill="#000" font-weight="normal" stroke="#000" stroke-width="0.1" >0</text>
<text x="102.80" y="462.70" font-size="12" text-anchor="middle" fill="#000" font-weight="normal" stroke="#000" stroke-width="0.1" >6</text>
<text x="162.80" y="462.70" font-size="12" text-anchor="middle" fill="#000" font-weight="normal" stroke="#000" stroke-width="0.1" >12</text>
<text x="221.10" y="462.70" font-size="12" text-anchor="middle" fill="#000" font-weight="normal" stroke="#000" stroke-width="0.1" >18</text>
<text x="280.90" y="462.70" font-size="12" text-anchor="middle" fill="#000" font-weight="normal" stroke="#000" stroke-width="0.1" >24</text>
<text x="32.90" y="339.10" font-size="12" text-anchor="end" fill="#000" font-weight="normal" stroke="#000" stroke-width="0.1" >20</text>
<text x="32.90" y="306.50" font-size="12" text-anchor="end" fill="#000" font-weight="normal" stroke="#000" stroke-width="0.1" >40</text>
<text x="32.90" y="273.70" font-size="12" text-anchor="end" fill="#000" font-weight="normal" stroke="#000" stroke-width="0.1" >60</text>
<text x="32.90" y="429.50" font-size="12" text-anchor="end" fill="#000" font-weight="normal" stroke="#000" stroke-width="0.1" >10</text>
<text x="32.90" y="402.30" font-size="12" text-anchor="end" fill="#000" font-weight="normal" stroke="#000" stroke-width="0.1" >20</text>
<text x="32.90" y="373.60" font-size="12" text-anchor="end" fill="#000" font-weight="normal" stroke="#000" stroke-width="0.1" >30</text>
<rect x="42.00" y="269.70" width="6.40" height="6.40" fill="none" stroke="#858585" stroke-width="2.2"/>
<rect x="44.30" y="307.80" width="6.40" height="6.40" fill="none" stroke="#858585" stroke-width="2.2"/>
<rect x="46.80" y="315.40" width="6.40" height="6.40" fill="none" stroke="#858585" stroke-width="2.2"/>
<rect x="50.10" y="319.80" width="6.40" height="6.40" fill="none" stroke="#858585" stroke-width="2.2"/>
<rect x="61.90" y="328.60" width="6.40" height="6.40" fill="none" stroke="#858585" stroke-width="2.2"/>
<rect x="73.00" y="333.80" width="6.40" height="6.40" fill="none" stroke="#858585" stroke-width="2.2"/>
<rect x="81.70" y="336.70" width="6.40" height="6.40" fill="none" stroke="#858585" stroke-width="2.2"/>
<rect x="90.40" y="336.30" width="6.40" height="6.40" fill="none" stroke="#858585" stroke-width="2.2"/>
<rect x="98.10" y="336.70" width="6.40" height="6.40" fill="none" stroke="#858585" stroke-width="2.2"/>
<rect x="106.80" y="337.80" width="6.40" height="6.40" fill="none" stroke="#858585" stroke-width="2.2"/>
<rect x="116.40" y="338.20" width="6.40" height="6.40" fill="none" stroke="#858585" stroke-width="2.2"/>
<rect x="137.00" y="339.60" width="6.40" height="6.40" fill="none" stroke="#858585" stroke-width="2.2"/>
<rect x="161.90" y="340.20" width="6.40" height="6.40" fill="none" stroke="#858585" stroke-width="2.2"/>
<rect x="175.20" y="340.20" width="6.40" height="6.40" fill="none" stroke="#858585" stroke-width="2.2"/>
<rect x="189.50" y="340.00" width="6.40" height="6.40" fill="none" stroke="#858585" stroke-width="2.2"/>
<rect x="205.70" y="340.50" width="6.40" height="6.40" fill="none" stroke="#858585" stroke-width="2.2"/>
<rect x="241.20" y="341.50" width="6.40" height="6.40" fill="none" stroke="#858585" stroke-width="2.2"/>
<rect x="260.60" y="342.10" width="6.40" height="6.40" fill="none" stroke="#858585" stroke-width="2.2"/>
<rect x="41.70" y="292.10" width="8.4" height="8.4" fill="#000"/>
<rect x="56.20" y="327.60" width="8.4" height="8.4" fill="#e00000"/>
<rect x="126.00" y="338.20" width="8.4" height="8.4" fill="#0000e0"/>
<rect x="225.10" y="340.10" width="8.4" height="8.4" fill="#008000"/>
<path d="M42.6 270.0 L46.5 290.4 L47.9 302.5 L50.4 312.4 L52.9 324.0 L54.3 329.2 L59.5 331.5 L65.3 333.5 L72.8 335.6 L80.0 337.5 L94.2 339.9 L130.0 342.3 L160.0 343.2 L220.0 344.2 L271.8 345.2" fill="none" stroke="#000" stroke-width="1.5" stroke-dasharray="3.4 2.2"/>
<rect x="40.70" y="358.60" width="8.4" height="8.4" fill="#808080"/>
<rect x="43.40" y="400.00" width="8.4" height="8.4" fill="#808080"/>
<rect x="45.50" y="405.80" width="8.4" height="8.4" fill="#808080"/>
<rect x="47.50" y="411.60" width="8.4" height="8.4" fill="#808080"/>
<rect x="60.00" y="417.80" width="8.4" height="8.4" fill="#808080"/>
<rect x="72.40" y="422.40" width="8.4" height="8.4" fill="#808080"/>
<rect x="80.70" y="426.50" width="8.4" height="8.4" fill="#808080"/>
<rect x="88.90" y="419.90" width="8.4" height="8.4" fill="#808080"/>
<rect x="97.20" y="423.40" width="8.4" height="8.4" fill="#808080"/>
<rect x="105.50" y="423.40" width="8.4" height="8.4" fill="#808080"/>
<rect x="115.90" y="424.90" width="8.4" height="8.4" fill="#808080"/>
<rect x="136.60" y="424.10" width="8.4" height="8.4" fill="#808080"/>
<rect x="160.20" y="428.00" width="8.4" height="8.4" fill="#808080"/>
<rect x="174.00" y="429.10" width="8.4" height="8.4" fill="#808080"/>
<rect x="188.50" y="434.70" width="8.4" height="8.4" fill="#808080"/>
<rect x="204.70" y="434.70" width="8.4" height="8.4" fill="#808080"/>
<rect x="240.20" y="436.20" width="8.4" height="8.4" fill="#808080"/>
<rect x="260.20" y="436.90" width="8.4" height="8.4" fill="#808080"/>
<rect x="41.30" y="368.20" width="8.4" height="8.4" fill="#000"/>
<rect x="56.40" y="412.10" width="8.4" height="8.4" fill="#e00000"/>
<rect x="126.80" y="425.50" width="8.4" height="8.4" fill="#0000e0"/>
<rect x="224.70" y="433.10" width="8.4" height="8.4" fill="#008000"/>
<path d="M42.0 359.0 L46.5 388.0 L51.7 419.4 L60.0 421.9 L75.0 426.0 L94.2 431.0 L130.0 432.8 L160.0 433.8 L220.0 435.3 L272.5 436.7" fill="none" stroke="#000" stroke-width="1.5" stroke-dasharray="3.4 2.2"/>
<rect x="35.0" y="259.4" width="255.89999999999998" height="187.90000000000003" fill="none" stroke="#000" stroke-width="1.5"/>
<line x1="35.00" y1="353.20" x2="290.90" y2="353.20" stroke="#000" stroke-width="1.2" />
<line x1="71.30" y1="277.00" x2="71.30" y2="289.30" stroke="#000" stroke-width="1.7" />
<line x1="115.30" y1="277.00" x2="115.30" y2="289.30" stroke="#000" stroke-width="1.7" />
<line x1="121.30" y1="277.00" x2="121.30" y2="289.30" stroke="#000" stroke-width="1.7" />
<text x="160.80" y="478.80" font-size="13.68" text-anchor="middle" fill="#000" font-weight="bold" >Pump power density (MW/cm<tspan dx="0.3" dy="-3.6" font-size="9.5">2</tspan><tspan dx="0.8" dy="3.6">)</tspan></text>
<text x="2.40" y="256.80" font-size="14.8" text-anchor="start" fill="#000" font-weight="bold" >(c)</text>
<text transform="translate(10.8 329.2) rotate(-90)" font-size="14.4" font-weight="bold" fill="#000">t<tspan font-size="8.9" dy="3.1">R</tspan><tspan dy="-3.1"> (ns)</tspan></text>
<text transform="translate(12.0 429.6) rotate(-90)" font-size="14.3" font-weight="bold" fill="#000">t<tspan font-size="9.2" dy="3.1">Delay</tspan><tspan dy="-3.1"> (ns)</tspan></text>
<line x1="423.40" y1="257.00" x2="423.40" y2="450.70" stroke="#444" stroke-width="1.4" stroke-dasharray="5.5 4.43" stroke-dashoffset="9.75"/>
<line x1="507.00" y1="257.00" x2="507.00" y2="450.70" stroke="#606060" stroke-width="1.5" stroke-dasharray="1.3 1.45" stroke-dashoffset="2.4"/>
<line x1="405.00" y1="450.70" x2="405.00" y2="447.20" stroke="#000" stroke-width="1.2" />
<line x1="405.00" y1="257.00" x2="405.00" y2="260.50" stroke="#000" stroke-width="1.2" />
<line x1="437.70" y1="450.70" x2="437.70" y2="448.50" stroke="#000" stroke-width="1.2" />
<line x1="437.70" y1="257.00" x2="437.70" y2="259.20" stroke="#000" stroke-width="1.2" />
<line x1="470.40" y1="450.70" x2="470.40" y2="447.20" stroke="#000" stroke-width="1.2" />
<line x1="470.40" y1="257.00" x2="470.40" y2="260.50" stroke="#000" stroke-width="1.2" />
<line x1="503.10" y1="450.70" x2="503.10" y2="448.50" stroke="#000" stroke-width="1.2" />
<line x1="503.10" y1="257.00" x2="503.10" y2="259.20" stroke="#000" stroke-width="1.2" />
<line x1="535.80" y1="450.70" x2="535.80" y2="447.20" stroke="#000" stroke-width="1.2" />
<line x1="535.80" y1="257.00" x2="535.80" y2="260.50" stroke="#000" stroke-width="1.2" />
<line x1="568.50" y1="450.70" x2="568.50" y2="448.50" stroke="#000" stroke-width="1.2" />
<line x1="568.50" y1="257.00" x2="568.50" y2="259.20" stroke="#000" stroke-width="1.2" />
<line x1="601.20" y1="450.70" x2="601.20" y2="447.20" stroke="#000" stroke-width="1.2" />
<line x1="601.20" y1="257.00" x2="601.20" y2="260.50" stroke="#000" stroke-width="1.2" />
<line x1="633.90" y1="450.70" x2="633.90" y2="448.50" stroke="#000" stroke-width="1.2" />
<line x1="633.90" y1="257.00" x2="633.90" y2="259.20" stroke="#000" stroke-width="1.2" />
<line x1="383.00" y1="423.30" x2="386.50" y2="423.30" stroke="#e8141e" stroke-width="1.2" />
<line x1="383.00" y1="388.65" x2="385.20" y2="388.65" stroke="#e8141e" stroke-width="1.2" />
<line x1="383.00" y1="354.00" x2="386.50" y2="354.00" stroke="#e8141e" stroke-width="1.2" />
<line x1="383.00" y1="319.35" x2="385.20" y2="319.35" stroke="#e8141e" stroke-width="1.2" />
<line x1="383.00" y1="284.70" x2="386.50" y2="284.70" stroke="#e8141e" stroke-width="1.2" />
<line x1="644.00" y1="426.70" x2="640.50" y2="426.70" stroke="#2a20a8" stroke-width="1.2" />
<line x1="644.00" y1="390.32" x2="641.80" y2="390.32" stroke="#2a20a8" stroke-width="1.2" />
<line x1="644.00" y1="353.95" x2="640.50" y2="353.95" stroke="#2a20a8" stroke-width="1.2" />
<line x1="644.00" y1="317.57" x2="641.80" y2="317.57" stroke="#2a20a8" stroke-width="1.2" />
<line x1="644.00" y1="281.20" x2="640.50" y2="281.20" stroke="#2a20a8" stroke-width="1.2" />
<text x="404.20" y="462.80" font-size="11.2" text-anchor="middle" fill="#000" font-weight="normal" stroke="#000" stroke-width="0.1" >0</text>
<text x="469.10" y="462.80" font-size="11.2" text-anchor="middle" fill="#000" font-weight="normal" stroke="#000" stroke-width="0.1" >3</text>
<text x="535.00" y="462.80" font-size="11.2" text-anchor="middle" fill="#000" font-weight="normal" stroke="#000" stroke-width="0.1" >6</text>
<text x="600.60" y="462.80" font-size="11.2" text-anchor="middle" fill="#000" font-weight="normal" stroke="#000" stroke-width="0.1" >9</text>
<text x="377.90" y="289.00" font-size="12" text-anchor="end" fill="#d03a3a" font-weight="normal" stroke="#d03a3a" stroke-width="0.1" >100k</text>
<text x="377.90" y="359.60" font-size="12" text-anchor="end" fill="#d03a3a" font-weight="normal" stroke="#d03a3a" stroke-width="0.1" >50k</text>
<text x="378.50" y="428.90" font-size="12" text-anchor="end" fill="#d03a3a" font-weight="normal" stroke="#d03a3a" stroke-width="0.1" >0</text>
<text x="645.60" y="285.50" font-size="12" text-anchor="start" fill="#2828b8" font-weight="normal" stroke="#2828b8" stroke-width="0.1" >60</text>
<text x="645.60" y="359.20" font-size="12" text-anchor="start" fill="#2828b8" font-weight="normal" stroke="#2828b8" stroke-width="0.1" >30</text>
<text x="645.60" y="431.00" font-size="12" text-anchor="start" fill="#2828b8" font-weight="normal" stroke="#2828b8" stroke-width="0.1" >0</text>
<circle cx="405.00" cy="418.90" r="4.75" fill="none" stroke="#e00a0a" stroke-width="2.3"/>
<circle cx="408.60" cy="417.60" r="4.75" fill="none" stroke="#e00a0a" stroke-width="2.3"/>
<circle cx="412.70" cy="415.60" r="4.75" fill="none" stroke="#e00a0a" stroke-width="2.3"/>
<circle cx="417.30" cy="413.50" r="4.75" fill="none" stroke="#e00a0a" stroke-width="2.3"/>
<circle cx="423.70" cy="413.70" r="4.75" fill="none" stroke="#e00a0a" stroke-width="2.3"/>
<circle cx="440.50" cy="403.50" r="4.75" fill="none" stroke="#e00a0a" stroke-width="2.3"/>
<circle cx="449.20" cy="399.20" r="4.75" fill="none" stroke="#e00a0a" stroke-width="2.3"/>
<circle cx="462.30" cy="391.70" r="4.75" fill="none" stroke="#e00a0a" stroke-width="2.3"/>
<circle cx="474.90" cy="382.40" r="4.75" fill="none" stroke="#e00a0a" stroke-width="2.3"/>
<circle cx="493.50" cy="380.50" r="4.75" fill="none" stroke="#e00a0a" stroke-width="2.3"/>
<circle cx="511.70" cy="375.60" r="4.75" fill="none" stroke="#e00a0a" stroke-width="2.3"/>
<circle cx="529.10" cy="361.70" r="4.75" fill="none" stroke="#e00a0a" stroke-width="2.3"/>
<circle cx="550.00" cy="345.10" r="4.75" fill="none" stroke="#e00a0a" stroke-width="2.3"/>
<circle cx="571.10" cy="326.50" r="4.75" fill="none" stroke="#e00a0a" stroke-width="2.3"/>
<circle cx="594.90" cy="298.60" r="4.75" fill="none" stroke="#e00a0a" stroke-width="2.3"/>
<circle cx="616.90" cy="277.90" r="4.75" fill="none" stroke="#e00a0a" stroke-width="2.3"/>
<circle cx="405.30" cy="288.80" r="4.75" fill="none" stroke="#0000d0" stroke-width="2.3"/>
<circle cx="406.80" cy="306.10" r="4.75" fill="none" stroke="#0000d0" stroke-width="2.3"/>
<circle cx="412.80" cy="316.80" r="4.75" fill="none" stroke="#0000d0" stroke-width="2.3"/>
<circle cx="417.70" cy="335.50" r="4.75" fill="none" stroke="#0000d0" stroke-width="2.3"/>
<circle cx="423.70" cy="413.70" r="4.75" fill="none" stroke="#0000d0" stroke-width="2.3"/>
<circle cx="439.90" cy="417.60" r="4.75" fill="none" stroke="#0000d0" stroke-width="2.3"/>
<circle cx="449.40" cy="417.40" r="4.75" fill="none" stroke="#0000d0" stroke-width="2.3"/>
<circle cx="462.40" cy="418.50" r="4.75" fill="none" stroke="#0000d0" stroke-width="2.3"/>
<circle cx="475.00" cy="418.70" r="4.75" fill="none" stroke="#0000d0" stroke-width="2.3"/>
<circle cx="492.80" cy="418.30" r="4.75" fill="none" stroke="#0000d0" stroke-width="2.3"/>
<circle cx="511.70" cy="424.60" r="4.75" fill="none" stroke="#0000d0" stroke-width="2.3"/>
<circle cx="529.80" cy="424.60" r="4.75" fill="none" stroke="#0000d0" stroke-width="2.3"/>
<circle cx="549.80" cy="424.60" r="4.75" fill="none" stroke="#0000d0" stroke-width="2.3"/>
<circle cx="571.30" cy="424.60" r="4.75" fill="none" stroke="#0000d0" stroke-width="2.3"/>
<circle cx="595.40" cy="424.60" r="4.75" fill="none" stroke="#0000d0" stroke-width="2.3"/>
<circle cx="617.20" cy="424.60" r="4.75" fill="none" stroke="#0000d0" stroke-width="2.3"/>
<path d="M404.5 419.5 L427.0 413.4 L474.9 382.4 L505.9 381.8 L620.5 274.7" fill="none" stroke="#000" stroke-width="1.8" stroke-linejoin="round"/>
<path d="M405.6 287.6 L425.5 413.7 L496.1 415.0 L506.1 423.3 L617.5 423.6" fill="none" stroke="#000" stroke-width="1.8" stroke-linejoin="round"/>
<line x1="383.00" y1="257.00" x2="644.00" y2="257.00" stroke="#000" stroke-width="1.5" />
<line x1="383.00" y1="450.70" x2="644.00" y2="450.70" stroke="#000" stroke-width="1.5" />
<line x1="383.00" y1="257.00" x2="383.00" y2="450.70" stroke="#e8141e" stroke-width="1.5" />
<line x1="644.00" y1="257.00" x2="644.00" y2="450.70" stroke="#2a20a8" stroke-width="1.5" />
<line x1="465.30" y1="277.30" x2="465.30" y2="289.30" stroke="#000" stroke-width="1.7" />
<line x1="534.70" y1="277.70" x2="534.70" y2="290.50" stroke="#000" stroke-width="1.7" />
<line x1="539.60" y1="277.70" x2="539.60" y2="290.50" stroke="#000" stroke-width="1.7" />
<text x="517.70" y="478.90" font-size="13.68" text-anchor="middle" fill="#000" font-weight="bold" >Pump power density (MW/cm<tspan dx="0.3" dy="-3.6" font-size="9.5">2</tspan><tspan dx="0.8" dy="3.6">)</tspan></text>
<text x="349.60" y="255.80" font-size="14.8" text-anchor="start" fill="#000" font-weight="bold" >(d)</text>
<text x="351.60" y="342.00" font-size="14.0" text-anchor="middle" fill="#e02020" font-weight="bold" transform="rotate(-90 351.6 342.0)">Intensity (a.u.)</text>
<text x="670.60" y="351.80" font-size="13.75" text-anchor="middle" fill="#2020b0" font-weight="bold" transform="rotate(-90 670.6 351.8)">Linewidth (nm)</text></svg>
</body></html>
